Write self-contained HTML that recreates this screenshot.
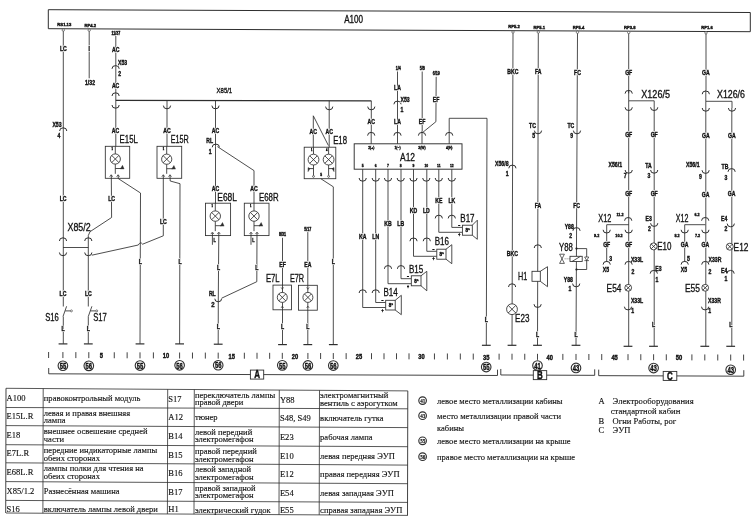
<!DOCTYPE html>
<html><head><meta charset="utf-8"><title>Wiring diagram</title>
<style>
html,body{margin:0;padding:0;background:#fff;width:756px;height:522px;overflow:hidden}
svg{display:block}
svg text{fill:#111;stroke:none}
svg text.h{fill:#fff;stroke:#fff;stroke-width:1.8px;stroke-linejoin:round}
svg text.b{stroke:#111;stroke-width:0.38px}
svg text.c{stroke:#111;stroke-width:0.32px}
svg text.s{stroke:#111;stroke-width:0.14px}
</style></head>
<body>
<svg width="756" height="522" viewBox="0 0 756 522">
<rect x="0" y="0" width="756" height="522" fill="#fff"/>
<g fill="none" stroke="#2e2e2e" stroke-width="0.85">
<path d="M48.3 9.7 L750.3 12.5 L750.3 31.7 L48.3 28.7 L48.3 9.7" stroke-width="1"/>
<circle cx="63.3" cy="30.06" r="1.2" fill="#fff" stroke-width="0.6"/>
<circle cx="89.2" cy="30.17" r="1.2" fill="#fff" stroke-width="0.6"/>
<circle cx="513" cy="31.99" r="1.2" fill="#fff" stroke-width="0.6"/>
<circle cx="538.3" cy="32.09" r="1.2" fill="#fff" stroke-width="0.6"/>
<circle cx="577.5" cy="32.26" r="1.2" fill="#fff" stroke-width="0.6"/>
<circle cx="628.7" cy="32.48" r="1.2" fill="#fff" stroke-width="0.6"/>
<circle cx="706" cy="32.81" r="1.2" fill="#fff" stroke-width="0.6"/>
<path d="M48.6 352 L48.6 358" stroke-width="0.9"/>
<path d="M62.9 352.06 L62.9 358.06" stroke-width="0.9"/>
<path d="M75.85 352.1 L75.85 358.1" stroke-width="0.9"/>
<path d="M88.8 352.15 L88.8 358.15" stroke-width="0.9"/>
<path d="M114.27 352.25 L114.27 358.25" stroke-width="0.9"/>
<path d="M127.13 352.29 L127.13 358.29" stroke-width="0.9"/>
<path d="M140 352.34 L140 358.34" stroke-width="0.9"/>
<path d="M153.4 352.39 L153.4 358.39" stroke-width="0.9"/>
<path d="M179.6 352.49 L179.6 358.49" stroke-width="0.9"/>
<path d="M192.47 352.54 L192.47 358.54" stroke-width="0.9"/>
<path d="M205.33 352.58 L205.33 358.58" stroke-width="0.9"/>
<path d="M218.2 352.63 L218.2 358.63" stroke-width="0.9"/>
<path d="M244.35 352.73 L244.35 358.73" stroke-width="0.9"/>
<path d="M257 352.78 L257 358.78" stroke-width="0.9"/>
<path d="M269.65 352.82 L269.65 358.82" stroke-width="0.9"/>
<path d="M282.3 352.87 L282.3 358.87" stroke-width="0.9"/>
<path d="M307.9 352.97 L307.9 358.97" stroke-width="0.9"/>
<path d="M320.6 353.01 L320.6 359.01" stroke-width="0.9"/>
<path d="M333.3 353.06 L333.3 359.06" stroke-width="0.9"/>
<path d="M346.15 353.11 L346.15 359.11" stroke-width="0.9"/>
<path d="M371.5 353.2 L371.5 359.2" stroke-width="0.9"/>
<path d="M384 353.25 L384 359.25" stroke-width="0.9"/>
<path d="M396.5 353.29 L396.5 359.29" stroke-width="0.9"/>
<path d="M409 353.34 L409 359.34" stroke-width="0.9"/>
<path d="M434.44 353.44 L434.44 359.44" stroke-width="0.9"/>
<path d="M447.38 353.48 L447.38 359.48" stroke-width="0.9"/>
<path d="M460.32 353.53 L460.32 359.53" stroke-width="0.9"/>
<path d="M473.26 353.58 L473.26 359.58" stroke-width="0.9"/>
<path d="M499.1 353.68 L499.1 359.68" stroke-width="0.9"/>
<path d="M512 353.72 L512 359.72" stroke-width="0.9"/>
<path d="M524.75 353.77 L524.75 359.77" stroke-width="0.9"/>
<path d="M537.5 353.82 L537.5 359.82" stroke-width="0.9"/>
<path d="M562.85 353.91 L562.85 359.91" stroke-width="0.9"/>
<path d="M576 353.96 L576 359.96" stroke-width="0.9"/>
<path d="M588.87 354.01 L588.87 360.01" stroke-width="0.9"/>
<path d="M601.73 354.06 L601.73 360.06" stroke-width="0.9"/>
<path d="M628 354.15 L628 360.15" stroke-width="0.9"/>
<path d="M640.8 354.2 L640.8 360.2" stroke-width="0.9"/>
<path d="M653.6 354.25 L653.6 360.25" stroke-width="0.9"/>
<path d="M666.3 354.3 L666.3 360.3" stroke-width="0.9"/>
<path d="M691.9 354.39 L691.9 360.39" stroke-width="0.9"/>
<path d="M704.8 354.44 L704.8 360.44" stroke-width="0.9"/>
<path d="M717.75 354.49 L717.75 360.49" stroke-width="0.9"/>
<path d="M730.7 354.54 L730.7 360.54" stroke-width="0.9"/>
<path d="M743.6 354.58 L743.6 360.58" stroke-width="0.9"/>
<path d="M48.7 368 L48.7 373.8 L497.5 375.47 L497.5 369.67" stroke-width="0.9"/>
<rect x="250.4" y="370.08" width="13.3" height="9" stroke-width="0.9" fill="#fff"/>
<path d="M500.8 368.98 L500.8 374.98 L594.7 375.33 L594.7 369.33" stroke-width="0.9"/>
<rect x="533.3" y="370.63" width="13.4" height="9" stroke-width="0.9" fill="#fff"/>
<path d="M598.7 369.65 L598.7 375.65 L743.8 376.18 L743.8 370.18" stroke-width="0.9"/>
<rect x="663.2" y="371.41" width="13.6" height="9" stroke-width="0.9" fill="#fff"/>
<circle cx="62.9" cy="365.76" r="4.8" fill="#fff" stroke-width="1.1"/>
<circle cx="88.8" cy="365.85" r="4.8" fill="#fff" stroke-width="1.1"/>
<circle cx="140" cy="365.54" r="4.8" fill="#fff" stroke-width="1.1"/>
<circle cx="179.6" cy="365.29" r="4.8" fill="#fff" stroke-width="1.1"/>
<circle cx="218.2" cy="365.23" r="4.8" fill="#fff" stroke-width="1.1"/>
<circle cx="282.3" cy="365.37" r="4.8" fill="#fff" stroke-width="1.1"/>
<circle cx="307.9" cy="365.47" r="4.8" fill="#fff" stroke-width="1.1"/>
<circle cx="333.3" cy="365.56" r="4.8" fill="#fff" stroke-width="1.1"/>
<circle cx="486.2" cy="367.03" r="4.8" fill="#fff" stroke-width="1.1"/>
<circle cx="537.5" cy="365.52" r="4.8" fill="#fff" stroke-width="1.1"/>
<circle cx="576" cy="367.96" r="4.8" fill="#fff" stroke-width="1.1"/>
<circle cx="653.6" cy="368.05" r="4.8" fill="#fff" stroke-width="1.1"/>
<circle cx="730.7" cy="369.74" r="4.8" fill="#fff" stroke-width="1.1"/>
<path d="M63.3 31.26 L63.3 343.8"/>
<path d="M59.6 131 A3.6 3.2 0 0 1 66.8 131" stroke-width="1"/>
<path d="M59.4 241 A3.6 3.2 0 0 1 66.6 241" stroke-width="1"/>
<path d="M59.4 252.5 A3.6 3.2 0 0 0 66.6 252.5" stroke-width="1"/>
<path d="M84.7 241 A3.6 3.2 0 0 1 91.9 241" stroke-width="1"/>
<path d="M84.7 252.5 A3.6 3.2 0 0 0 91.9 252.5" stroke-width="1"/>
<path d="M63 247.5 L88.3 247.5"/>
<path d="M89.2 31.37 L89.2 78.3"/>
<path d="M115.8 36 L115.8 146.3"/>
<path d="M112 68.8 A3.6 3.2 0 0 1 119.2 68.8" stroke-width="1"/>
<path d="M112 96 A3.6 3.2 0 0 1 119.2 96" stroke-width="1"/>
<path d="M112 105 A3.6 3.2 0 0 0 119.2 105" stroke-width="1"/>
<path d="M115.8 100.3 L371.3 100.8" stroke-width="1.35"/>
<path d="M167 100.5 L167 146.3"/>
<path d="M163.4 105.6 A3.6 3.2 0 0 0 170.6 105.6" stroke-width="1"/>
<path d="M215.5 100.5 L215.5 146.3"/>
<path d="M211.9 105.6 A3.6 3.2 0 0 0 219.1 105.6" stroke-width="1"/>
<rect x="105.3" y="146.3" width="24.4" height="32"/>
<path d="M115.3 146.3 L115.3 153.9"/>
<circle cx="115.3" cy="159" r="5.1" fill="#fff"/>
<path d="M111.69 155.39 L118.91 162.61 M111.69 162.61 L118.91 155.39"/>
<path d="M115.3 164.1 L115.3 173.8"/>
<path d="M115.3 168.5 L121.3 168.5"/>
<path d="M120.3 168.9 L122.5 165.3 L124.1 168.9 Z" fill="#2e2e2e" stroke-width="0.4"/>
<path d="M109.7 176.8 L111.2 174.7 L112.7 176.8" stroke-width="0.7"/>
<path d="M116.6 176.8 L118.1 174.7 L119.6 176.8" stroke-width="0.7"/>
<path d="M111.3 175 L111.6 217.5 L90 231.7 L88.3 235.5 L88.3 343.8"/>
<path d="M118.1 175 L118.3 178.6 L140.5 193 L140 343.8"/>
<rect x="157" y="146.3" width="24.7" height="32"/>
<path d="M166.7 146.3 L166.7 154.1"/>
<circle cx="166.7" cy="159.2" r="5.1" fill="#fff"/>
<path d="M163.09 155.59 L170.31 162.81 M163.09 162.81 L170.31 155.59"/>
<path d="M166.7 164.3 L166.7 173.8"/>
<path d="M166.7 168.7 L172.7 168.7"/>
<path d="M171.7 169.1 L173.9 165.5 L175.5 169.1 Z" fill="#2e2e2e" stroke-width="0.4"/>
<path d="M161.8 176.8 L163.3 174.7 L164.8 176.8" stroke-width="0.7"/>
<path d="M168.5 176.8 L170 174.7 L171.5 176.8" stroke-width="0.7"/>
<path d="M163.3 175 L163.3 235.8 L142.6 244.2 Q140.4 241.2 138.3 245 L91.8 255.2"/>
<path d="M170 175 L170.2 181 L180 183.7 L179.6 344"/>
<rect x="61.5" y="306.5" width="3" height="10" fill="#fff" stroke="none"/>
<path d="M63 316.5 L66.6 306.3"/>
<path d="M65.2 310.9 L70.4 310.9"/>
<circle cx="71.4" cy="310.9" r="1.0" fill="#fff" stroke-width="0.6"/>
<rect x="86.8" y="306.5" width="3" height="10" fill="#fff" stroke="none"/>
<path d="M88.3 316.5 L91.9 306.3"/>
<path d="M90.5 310.9 L95.7 310.9"/>
<circle cx="96.7" cy="310.9" r="1.0" fill="#fff" stroke-width="0.6"/>
<path d="M58.6 343.9 L67.4 343.9" stroke-width="1.2"/>
<path d="M83.9 343.9 L92.7 343.9" stroke-width="1.2"/>
<path d="M135.6 343.9 L144.4 343.9" stroke-width="1.2"/>
<path d="M175.2 343.9 L184 343.9" stroke-width="1.2"/>
<path d="M212.2 147.3 A3.6 3.2 0 0 1 219.4 147.3" stroke-width="1"/>
<path d="M215.5 146.3 L215.5 203.3"/>
<path d="M217.4 146.6 L254 170.6 L254 203.3"/>
<rect x="205.5" y="203.2" width="25.1" height="32.4"/>
<rect x="244.3" y="203.2" width="24.7" height="32.4"/>
<path d="M215.3 203.2 L215.3 210.9"/>
<circle cx="215.3" cy="216.1" r="5.2" fill="#fff"/>
<path d="M211.62 212.42 L218.98 219.78 M211.62 219.78 L218.98 212.42"/>
<path d="M215.3 221.3 L215.3 231.1"/>
<path d="M215.3 225.7 L221.3 225.7"/>
<path d="M220.3 226.1 L222.5 222.5 L224.1 226.1 Z" fill="#2e2e2e" stroke-width="0.4"/>
<path d="M210.9 234.1 L212.4 232 L213.9 234.1" stroke-width="0.7"/>
<path d="M217.3 234.1 L218.8 232 L220.3 234.1" stroke-width="0.7"/>
<path d="M254 203.2 L254 210.9"/>
<circle cx="254" cy="216.1" r="5.2" fill="#fff"/>
<path d="M250.32 212.42 L257.68 219.78 M250.32 219.78 L257.68 212.42"/>
<path d="M254 221.3 L254 231.1"/>
<path d="M254 225.7 L260 225.7"/>
<path d="M259 226.1 L261.2 222.5 L262.8 226.1 Z" fill="#2e2e2e" stroke-width="0.4"/>
<path d="M249.5 234.1 L251 232 L252.5 234.1" stroke-width="0.7"/>
<path d="M255.5 234.1 L257 232 L258.5 234.1" stroke-width="0.7"/>
<path d="M212.4 233 L212.4 244.8"/>
<path d="M251 233 L251 244.8"/>
<path d="M218.8 233 L218.3 298 L218.2 344.2"/>
<path d="M257 233 L256.8 281.7 L221.6 298.2"/>
<path d="M214.8 298.7 A3.4 3.1 0 0 0 221.6 298.7" stroke-width="1"/>
<path d="M213.8 344.2 L222.6 344.2" stroke-width="1.2"/>
<path d="M282.5 237.8 L282.5 344.6"/>
<path d="M278.1 344.6 L286.9 344.6" stroke-width="1.2"/>
<path d="M307.8 232.1 L307.8 344.6"/>
<path d="M303.4 344.6 L312.2 344.6" stroke-width="1.2"/>
<rect x="273" y="285.1" width="18.5" height="24.7"/>
<rect x="298.5" y="285.3" width="18.8" height="24.9"/>
<circle cx="282.3" cy="297.4" r="5" fill="#fff"/>
<path d="M278.76 293.86 L285.84 300.94 M278.76 300.94 L285.84 293.86"/>
<path d="M281 287.3 L282.3 289.3 L283.6 287.3" stroke-width="0.6"/>
<path d="M281 308 L282.3 306 L283.6 308" stroke-width="0.6"/>
<circle cx="307.9" cy="297.4" r="5" fill="#fff"/>
<path d="M304.36 293.86 L311.44 300.94 M304.36 300.94 L311.44 293.86"/>
<path d="M306.6 287.3 L307.9 289.3 L309.2 287.3" stroke-width="0.6"/>
<path d="M306.6 308 L307.9 306 L309.2 308" stroke-width="0.6"/>
<path d="M329.2 100.8 L329.2 147.2"/>
<path d="M325.6 106.6 A3.6 3.2 0 0 0 332.8 106.6" stroke-width="1"/>
<path d="M313.3 115.8 L313.3 147.2"/>
<path d="M313.3 115.8 L328.4 145.5"/>
<rect x="304.2" y="147.2" width="31.6" height="31.5"/>
<path d="M313.5 147.2 L313.5 154.2"/>
<circle cx="313.5" cy="159.6" r="5.4" fill="#fff"/>
<path d="M309.68 155.78 L317.32 163.42 M309.68 163.42 L317.32 155.78"/>
<path d="M313.5 165 L313.5 175.4"/>
<path d="M313.5 168.6 L308.3 168.6" stroke-width="0.9"/>
<path d="M308.1 167.6 L308.1 171.6 L309.9 168.6 Z" fill="#2e2e2e" stroke-width="0.5"/>
<circle cx="313.5" cy="176.4" r="0.95" fill="#fff" stroke-width="0.7"/>
<path d="M328.6 147.2 L328.6 154.2"/>
<circle cx="328.6" cy="159.6" r="5.4" fill="#fff"/>
<path d="M324.78 155.78 L332.42 163.42 M324.78 163.42 L332.42 155.78"/>
<path d="M328.6 165 L328.6 175.4"/>
<path d="M328.6 168.6 L333.8 168.6" stroke-width="0.9"/>
<path d="M334 167.6 L334 171.6 L332.2 168.6 Z" fill="#2e2e2e" stroke-width="0.5"/>
<circle cx="328.6" cy="176.4" r="0.95" fill="#fff" stroke-width="0.7"/>
<path d="M320.8 178.7 L333.3 186.8 L333.3 344.6"/>
<path d="M328.9 344.6 L337.7 344.6" stroke-width="1.2"/>
<rect x="354.2" y="143.8" width="107.8" height="25.4" stroke-width="0.95"/>
<path d="M367.6 135.6 A3.6 3.2 0 0 1 374.8 135.6" stroke-width="1"/>
<path d="M371.2 131 L371.2 143.8"/>
<path d="M393.9 135.6 A3.6 3.2 0 0 1 401.1 135.6" stroke-width="1"/>
<path d="M397.5 131 L397.5 143.8"/>
<path d="M418.4 135.6 A3.6 3.2 0 0 1 425.6 135.6" stroke-width="1"/>
<path d="M422 131 L422 143.8"/>
<path d="M445.6 135.6 A3.6 3.2 0 0 1 452.8 135.6" stroke-width="1"/>
<path d="M449.2 131 L449.2 143.8"/>
<path d="M359.1 178 A3.6 3.2 0 0 0 366.3 178" stroke-width="1"/>
<path d="M372.1 178 A3.6 3.2 0 0 0 379.3 178" stroke-width="1"/>
<path d="M384.4 178 A3.6 3.2 0 0 0 391.6 178" stroke-width="1"/>
<path d="M397.1 178 A3.6 3.2 0 0 0 404.3 178" stroke-width="1"/>
<path d="M409.9 178 A3.6 3.2 0 0 0 417.1 178" stroke-width="1"/>
<path d="M422.7 178 A3.6 3.2 0 0 0 429.9 178" stroke-width="1"/>
<path d="M435.2 178 A3.6 3.2 0 0 0 442.4 178" stroke-width="1"/>
<path d="M448.2 178 A3.6 3.2 0 0 0 455.4 178" stroke-width="1"/>
<path d="M371.3 100.8 L371.3 131"/>
<path d="M367.7 106.6 A3.6 3.2 0 0 0 374.9 106.6" stroke-width="1"/>
<path d="M397.5 71.5 L397.5 131"/>
<path d="M393.9 104.3 A3.6 3.2 0 0 1 401.1 104.3" stroke-width="1"/>
<path d="M422.2 71.5 L422.2 131"/>
<path d="M436.2 76.8 L435.9 121.7 L423 132.2"/>
<path d="M449.2 131 L449.2 118.3 L487 118.3 L486.3 345.3"/>
<path d="M481.9 345.3 L490.7 345.3" stroke-width="1.2"/>
<path d="M438.8 169.2 L438.8 232.3"/>
<path d="M451.8 169.2 L451.8 227.4"/>
<path d="M438.8 232.3 L462.4 232.3"/>
<path d="M451.8 227.4 L462.4 227.4"/>
<path d="M435.2 218.4 A3.6 3.2 0 0 1 442.4 218.4" stroke-width="1"/>
<path d="M448.2 218.4 A3.6 3.2 0 0 1 455.4 218.4" stroke-width="1"/>
<rect x="462.4" y="225.2" width="9.9" height="10" fill="#fff"/>
<path d="M472.3 225.2 L477.3 220.2 L477.3 239.3 L472.3 235.2"/>
<path d="M413.5 169.2 L413.5 256.3"/>
<path d="M426.8 169.2 L426.8 251.3"/>
<path d="M413.5 256.3 L436.8 256.3"/>
<path d="M426.8 251.3 L436.8 251.3"/>
<path d="M409.9 241.2 A3.6 3.2 0 0 1 417.1 241.2" stroke-width="1"/>
<path d="M423.2 241.2 A3.6 3.2 0 0 1 430.4 241.2" stroke-width="1"/>
<rect x="436.8" y="249.2" width="9.2" height="10" fill="#fff"/>
<path d="M446 249.2 L451.8 244.7 L451.8 263.7 L446 259.2"/>
<path d="M388 169.2 L388 283.7"/>
<path d="M401 169.2 L401 278.7"/>
<path d="M388 283.7 L411.3 283.7"/>
<path d="M401 278.7 L411.3 278.7"/>
<path d="M384.4 268.8 A3.6 3.2 0 0 1 391.6 268.8" stroke-width="1"/>
<path d="M397.4 268.8 A3.6 3.2 0 0 1 404.6 268.8" stroke-width="1"/>
<rect x="411.3" y="275.8" width="9.7" height="10" fill="#fff"/>
<path d="M421 275.8 L426.8 271.3 L426.8 290.8 L421 285.8"/>
<path d="M362.7 169.2 L362.7 307.5"/>
<path d="M375.7 169.2 L375.7 302.5"/>
<path d="M362.7 307.5 L385.7 307.5"/>
<path d="M375.7 302.5 L385.7 302.5"/>
<path d="M359.1 293 A3.6 3.2 0 0 1 366.3 293" stroke-width="1"/>
<path d="M372.1 293 A3.6 3.2 0 0 1 379.3 293" stroke-width="1"/>
<rect x="385.7" y="300.3" width="9.5" height="9.7" fill="#fff"/>
<path d="M395.2 300.3 L401.3 295.3 L401.3 314.7 L395.2 310"/>
<path d="M513 33.19 L512 345.3"/>
<path d="M508.8 168.3 A3.6 3.2 0 0 1 516 168.3" stroke-width="1"/>
<path d="M508.5 287 A3.6 3.2 0 0 1 515.7 287" stroke-width="1"/>
<circle cx="512" cy="309.2" r="5.4" fill="#fff"/>
<path d="M508.18 305.38 L515.82 313.02 M508.18 313.02 L515.82 305.38"/>
<path d="M507.6 345.3 L516.4 345.3" stroke-width="1.2"/>
<path d="M538.3 33.29 L537.5 345.3"/>
<path d="M534.4 130.6 A3.6 3.2 0 0 0 541.6 130.6" stroke-width="1"/>
<path d="M534.2 248 A3.6 3.2 0 0 1 541.4 248" stroke-width="1"/>
<rect x="532" y="271.3" width="8.3" height="10" fill="#fff"/>
<path d="M540.3 271.3 L547.5 266.7 L547.5 286.7 L540.3 281.3"/>
<path d="M534 304.2 A3.6 3.2 0 0 0 541.2 304.2" stroke-width="1"/>
<path d="M533.1 345.3 L541.9 345.3" stroke-width="1.2"/>
<path d="M577.5 33.46 L576 345.3"/>
<path d="M573.4 130.6 A3.6 3.2 0 0 0 580.6 130.6" stroke-width="1"/>
<path d="M572.9 230.8 A3.6 3.2 0 0 1 580.1 230.8" stroke-width="1"/>
<circle cx="576.5" cy="248.6" r="1.1" fill="#1a1a1a" stroke="none"/>
<circle cx="576.5" cy="269.5" r="1.1" fill="#1a1a1a" stroke="none"/>
<path d="M576.5 248.6 L586.7 248.6 L586.7 269.5 L576.5 269.5"/>
<rect x="570" y="256.3" width="12.2" height="5.2" fill="#fff"/>
<path d="M572 261.5 L580.5 256.3"/>
<path d="M584.6 257.0 L588.8 257.0 L586.7 260.4 Z M584.4 260.6 L589.0 260.6" stroke-width="0.7" fill="#fff"/>
<path d="M559.6 254.2 L564.4 254.2 L559.6 263.4 L564.4 263.4 Z" stroke-width="0.75"/>
<path d="M564.6 258.8 L570.0 258.8" stroke-width="0.6" stroke-dasharray="1 1"/>
<path d="M572.6 283.6 A3.6 3.2 0 0 0 579.8 283.6" stroke-width="1"/>
<path d="M571.6 345.3 L580.4 345.3" stroke-width="1.2"/>
<path d="M628.7 33.68 L628.7 93.3"/>
<path d="M625.1 93.6 A3.6 3.2 0 0 1 632.3 93.6" stroke-width="1"/>
<path d="M628.7 90 L628.7 100.8 L654.2 100.8 L654.2 107"/>
<path d="M628.7 100.8 L628.7 346.3"/>
<path d="M625.1 107.3 A3.6 3.2 0 0 0 632.3 107.3" stroke-width="1"/>
<path d="M650.6 107.3 A3.6 3.2 0 0 0 657.8 107.3" stroke-width="1"/>
<path d="M654.2 107 L654.2 346.3"/>
<path d="M625.1 170 A3.6 3.2 0 0 0 632.3 170" stroke-width="1"/>
<path d="M650.6 170 A3.6 3.2 0 0 0 657.8 170" stroke-width="1"/>
<path d="M624.6 220.7 A3.6 3.2 0 0 1 631.8 220.7" stroke-width="1"/>
<path d="M628.7 224.7 L606.7 224.7 L606.7 262"/>
<path d="M603.1 229.8 A3.6 3.2 0 0 0 610.3 229.8" stroke-width="1"/>
<path d="M625.1 229.8 A3.6 3.2 0 0 0 632.3 229.8" stroke-width="1"/>
<path d="M603.1 264.6 A3.6 3.2 0 0 1 610.3 264.6" stroke-width="1"/>
<path d="M625 264.6 A3.6 3.2 0 0 1 632.2 264.6" stroke-width="1"/>
<circle cx="628.2" cy="287.8" r="3.4" fill="#fff"/>
<path d="M625.8 285.4 L630.6 290.2 M625.8 290.2 L630.6 285.4"/>
<path d="M624.4 306.7 A3.6 3.2 0 0 0 631.6 306.7" stroke-width="1"/>
<path d="M623.6 346.3 L632.4 346.3" stroke-width="1.2"/>
<path d="M650.6 223.2 A3.6 3.2 0 0 0 657.8 223.2" stroke-width="1"/>
<circle cx="653.6" cy="246.4" r="3.5" fill="#fff"/>
<path d="M651.13 243.93 L656.07 248.87 M651.13 248.87 L656.07 243.93"/>
<path d="M650.2 273.6 A3.6 3.2 0 0 1 657.4 273.6" stroke-width="1"/>
<path d="M649.1 346.3 L657.9 346.3" stroke-width="1.2"/>
<path d="M706 34.01 L706 90"/>
<path d="M702.2 94.2 A3.6 3.2 0 0 1 709.4 94.2" stroke-width="1"/>
<path d="M705.8 90 L705.8 101.3 L732 101.3 L732 108"/>
<path d="M705.8 101.3 L705.8 346.3"/>
<path d="M702.2 108 A3.6 3.2 0 0 0 709.4 108" stroke-width="1"/>
<path d="M728.4 108 A3.6 3.2 0 0 0 735.6 108" stroke-width="1"/>
<path d="M731.8 108 L731.8 346.3"/>
<path d="M702 170.2 A3.6 3.2 0 0 0 709.2 170.2" stroke-width="1"/>
<path d="M728 171.8 A3.6 3.2 0 0 1 735.2 171.8" stroke-width="1"/>
<path d="M701.6 220.7 A3.6 3.2 0 0 1 708.8 220.7" stroke-width="1"/>
<path d="M705.4 224.7 L684.7 224.7 L684.7 262"/>
<path d="M681.1 229.8 A3.6 3.2 0 0 0 688.3 229.8" stroke-width="1"/>
<path d="M701.8 229.8 A3.6 3.2 0 0 0 709 229.8" stroke-width="1"/>
<path d="M681.1 264.6 A3.6 3.2 0 0 1 688.3 264.6" stroke-width="1"/>
<path d="M701.7 264.6 A3.6 3.2 0 0 1 708.9 264.6" stroke-width="1"/>
<circle cx="705.2" cy="287.8" r="3.4" fill="#fff"/>
<path d="M702.8 285.4 L707.6 290.2 M702.8 290.2 L707.6 285.4"/>
<path d="M701.5 306.7 A3.6 3.2 0 0 0 708.7 306.7" stroke-width="1"/>
<path d="M700.4 346.3 L709.2 346.3" stroke-width="1.2"/>
<path d="M727.2 223.6 A3.6 3.2 0 0 0 734.4 223.6" stroke-width="1"/>
<circle cx="729.8" cy="246.7" r="3.5" fill="#fff"/>
<path d="M727.33 244.23 L732.27 249.17 M727.33 249.17 L732.27 244.23"/>
<path d="M727 273.6 A3.6 3.2 0 0 1 734.2 273.6" stroke-width="1"/>
<path d="M726.3 346.3 L735.1 346.3" stroke-width="1.2"/>
<path d="M6 388.3 L407.8 390.9" stroke-width="0.8"/>
<path d="M6 407.5 L407.8 408.8" stroke-width="0.8"/>
<path d="M6 425.6 L407.8 427.6" stroke-width="0.8"/>
<path d="M6 444.7 L407.8 446.7" stroke-width="0.8"/>
<path d="M6 462.8 L407.8 465.1" stroke-width="0.8"/>
<path d="M6 481.6 L407.8 483.7" stroke-width="0.8"/>
<path d="M6 500.4 L407.8 502.4" stroke-width="0.8"/>
<path d="M6 513 L407.8 515.4" stroke-width="0.8"/>
<path d="M6 388.3 L5.7 513" stroke-width="0.9"/>
<path d="M43.2 388.54 L42.9 513.22" stroke-width="0.8"/>
<path d="M167.7 389.35 L167.4 513.97" stroke-width="0.8"/>
<path d="M194.3 389.52 L194 514.12" stroke-width="0.8"/>
<path d="M279.3 390.07 L279 514.63" stroke-width="0.8"/>
<path d="M319.5 390.33 L319.2 514.87" stroke-width="0.8"/>
<path d="M407.8 390.9 L407.5 515.4" stroke-width="0.9"/>
<circle cx="422.6" cy="400.6" r="3.8" stroke-width="1.15"/>
<circle cx="422.6" cy="415.7" r="3.8" stroke-width="1.15"/>
<circle cx="422.6" cy="440.8" r="3.8" stroke-width="1.15"/>
<circle cx="422.6" cy="456.7" r="3.8" stroke-width="1.15"/>
<text class="h" transform="translate(63.3 49) scale(0.79 1)" text-anchor="middle" dominant-baseline="central" style="font-family:'Liberation Sans', sans-serif;font-size:6.5px;font-weight:bold">LC</text>
<text class="h" transform="translate(61.5 124.7) scale(0.79 1)" text-anchor="end" dominant-baseline="central" style="font-family:'Liberation Sans', sans-serif;font-size:6.5px;font-weight:bold">X53</text>
<text class="h" transform="translate(63.1 198.7) scale(0.79 1)" text-anchor="middle" dominant-baseline="central" style="font-family:'Liberation Sans', sans-serif;font-size:6.5px;font-weight:bold">LC</text>
<text class="h" transform="translate(63 294) scale(0.79 1)" text-anchor="middle" dominant-baseline="central" style="font-family:'Liberation Sans', sans-serif;font-size:6.5px;font-weight:bold">LC</text>
<text class="h" transform="translate(88.3 294) scale(0.79 1)" text-anchor="middle" dominant-baseline="central" style="font-family:'Liberation Sans', sans-serif;font-size:6.5px;font-weight:bold">LC</text>
<text class="h" transform="translate(89.2 49) scale(0.79 1)" text-anchor="middle" dominant-baseline="central" style="font-family:'Liberation Sans', sans-serif;font-size:6.5px;font-weight:bold">I</text>
<text class="h" transform="translate(115.8 49.5) scale(0.79 1)" text-anchor="middle" dominant-baseline="central" style="font-family:'Liberation Sans', sans-serif;font-size:6.5px;font-weight:bold">AC</text>
<text class="h" transform="translate(118 62.3) scale(0.79 1)" text-anchor="start" dominant-baseline="central" style="font-family:'Liberation Sans', sans-serif;font-size:6.5px;font-weight:bold">X53</text>
<text class="h" transform="translate(115.6 85.3) scale(0.79 1)" text-anchor="middle" dominant-baseline="central" style="font-family:'Liberation Sans', sans-serif;font-size:6.5px;font-weight:bold">AC</text>
<text class="h" transform="translate(115.5 130.8) scale(0.79 1)" text-anchor="middle" dominant-baseline="central" style="font-family:'Liberation Sans', sans-serif;font-size:6.5px;font-weight:bold">AC</text>
<text class="h" transform="translate(111.6 198.7) scale(0.79 1)" text-anchor="middle" dominant-baseline="central" style="font-family:'Liberation Sans', sans-serif;font-size:6.5px;font-weight:bold">LC</text>
<text class="h" transform="translate(140.3 261.7) scale(0.79 1)" text-anchor="middle" dominant-baseline="central" style="font-family:'Liberation Sans', sans-serif;font-size:6.5px;font-weight:bold">L</text>
<text class="h" transform="translate(167 130.8) scale(0.79 1)" text-anchor="middle" dominant-baseline="central" style="font-family:'Liberation Sans', sans-serif;font-size:6.5px;font-weight:bold">AC</text>
<text class="h" transform="translate(163.3 221.7) scale(0.79 1)" text-anchor="middle" dominant-baseline="central" style="font-family:'Liberation Sans', sans-serif;font-size:6.5px;font-weight:bold">LC</text>
<text class="h" transform="translate(180 261.7) scale(0.79 1)" text-anchor="middle" dominant-baseline="central" style="font-family:'Liberation Sans', sans-serif;font-size:6.5px;font-weight:bold">L</text>
<text class="h" transform="translate(63 328.3) scale(0.79 1)" text-anchor="middle" dominant-baseline="central" style="font-family:'Liberation Sans', sans-serif;font-size:6.5px;font-weight:bold">L</text>
<text class="h" transform="translate(88.3 328.3) scale(0.79 1)" text-anchor="middle" dominant-baseline="central" style="font-family:'Liberation Sans', sans-serif;font-size:6.5px;font-weight:bold">L</text>
<text class="h" transform="translate(215.5 130.3) scale(0.79 1)" text-anchor="middle" dominant-baseline="central" style="font-family:'Liberation Sans', sans-serif;font-size:6.5px;font-weight:bold">AC</text>
<text class="h" transform="translate(215.5 188.3) scale(0.79 1)" text-anchor="middle" dominant-baseline="central" style="font-family:'Liberation Sans', sans-serif;font-size:6.5px;font-weight:bold">AC</text>
<text class="h" transform="translate(254 188.3) scale(0.79 1)" text-anchor="middle" dominant-baseline="central" style="font-family:'Liberation Sans', sans-serif;font-size:6.5px;font-weight:bold">AC</text>
<text class="h" transform="translate(218.6 267.5) scale(0.79 1)" text-anchor="middle" dominant-baseline="central" style="font-family:'Liberation Sans', sans-serif;font-size:6.5px;font-weight:bold">L</text>
<text class="h" transform="translate(218.2 326.7) scale(0.79 1)" text-anchor="middle" dominant-baseline="central" style="font-family:'Liberation Sans', sans-serif;font-size:6.5px;font-weight:bold">L</text>
<text class="h" transform="translate(256.8 267.5) scale(0.79 1)" text-anchor="middle" dominant-baseline="central" style="font-family:'Liberation Sans', sans-serif;font-size:6.5px;font-weight:bold">L</text>
<text class="h" transform="translate(282.5 264.8) scale(0.79 1)" text-anchor="middle" dominant-baseline="central" style="font-family:'Liberation Sans', sans-serif;font-size:6.5px;font-weight:bold">EF</text>
<text class="h" transform="translate(282.5 326.6) scale(0.79 1)" text-anchor="middle" dominant-baseline="central" style="font-family:'Liberation Sans', sans-serif;font-size:6.5px;font-weight:bold">L</text>
<text class="h" transform="translate(307.8 264.8) scale(0.79 1)" text-anchor="middle" dominant-baseline="central" style="font-family:'Liberation Sans', sans-serif;font-size:6.5px;font-weight:bold">EA</text>
<text class="h" transform="translate(307.8 326.6) scale(0.79 1)" text-anchor="middle" dominant-baseline="central" style="font-family:'Liberation Sans', sans-serif;font-size:6.5px;font-weight:bold">L</text>
<text class="h" transform="translate(313.3 131.7) scale(0.79 1)" text-anchor="middle" dominant-baseline="central" style="font-family:'Liberation Sans', sans-serif;font-size:6.5px;font-weight:bold">AC</text>
<text class="h" transform="translate(329.2 131.7) scale(0.79 1)" text-anchor="middle" dominant-baseline="central" style="font-family:'Liberation Sans', sans-serif;font-size:6.5px;font-weight:bold">AC</text>
<text class="h" transform="translate(333.3 261.4) scale(0.79 1)" text-anchor="middle" dominant-baseline="central" style="font-family:'Liberation Sans', sans-serif;font-size:6.5px;font-weight:bold">L</text>
<text class="h" transform="translate(371.3 121.7) scale(0.79 1)" text-anchor="middle" dominant-baseline="central" style="font-family:'Liberation Sans', sans-serif;font-size:6.5px;font-weight:bold">AC</text>
<text class="h" transform="translate(397.5 87.7) scale(0.79 1)" text-anchor="middle" dominant-baseline="central" style="font-family:'Liberation Sans', sans-serif;font-size:6.5px;font-weight:bold">LA</text>
<text class="h" transform="translate(400.6 100) scale(0.79 1)" text-anchor="start" dominant-baseline="central" style="font-family:'Liberation Sans', sans-serif;font-size:6.5px;font-weight:bold">X53</text>
<text class="h" transform="translate(397.5 121.7) scale(0.79 1)" text-anchor="middle" dominant-baseline="central" style="font-family:'Liberation Sans', sans-serif;font-size:6.5px;font-weight:bold">LA</text>
<text class="h" transform="translate(422 121.7) scale(0.79 1)" text-anchor="middle" dominant-baseline="central" style="font-family:'Liberation Sans', sans-serif;font-size:6.5px;font-weight:bold">EF</text>
<text class="h" transform="translate(436.1 100) scale(0.79 1)" text-anchor="middle" dominant-baseline="central" style="font-family:'Liberation Sans', sans-serif;font-size:6.5px;font-weight:bold">EF</text>
<text class="h" transform="translate(486.4 320) scale(0.79 1)" text-anchor="middle" dominant-baseline="central" style="font-family:'Liberation Sans', sans-serif;font-size:6.5px;font-weight:bold">L</text>
<text class="h" transform="translate(362.7 236.7) scale(0.79 1)" text-anchor="middle" dominant-baseline="central" style="font-family:'Liberation Sans', sans-serif;font-size:6.5px;font-weight:bold">KA</text>
<text class="h" transform="translate(375.7 236.7) scale(0.79 1)" text-anchor="middle" dominant-baseline="central" style="font-family:'Liberation Sans', sans-serif;font-size:6.5px;font-weight:bold">LN</text>
<text class="h" transform="translate(388 223.7) scale(0.79 1)" text-anchor="middle" dominant-baseline="central" style="font-family:'Liberation Sans', sans-serif;font-size:6.5px;font-weight:bold">KB</text>
<text class="h" transform="translate(400.7 223.7) scale(0.79 1)" text-anchor="middle" dominant-baseline="central" style="font-family:'Liberation Sans', sans-serif;font-size:6.5px;font-weight:bold">LB</text>
<text class="h" transform="translate(413.5 210.8) scale(0.79 1)" text-anchor="middle" dominant-baseline="central" style="font-family:'Liberation Sans', sans-serif;font-size:6.5px;font-weight:bold">KD</text>
<text class="h" transform="translate(426.3 210.8) scale(0.79 1)" text-anchor="middle" dominant-baseline="central" style="font-family:'Liberation Sans', sans-serif;font-size:6.5px;font-weight:bold">LD</text>
<text class="h" transform="translate(438.8 200.8) scale(0.79 1)" text-anchor="middle" dominant-baseline="central" style="font-family:'Liberation Sans', sans-serif;font-size:6.5px;font-weight:bold">KE</text>
<text class="h" transform="translate(451.8 200.8) scale(0.79 1)" text-anchor="middle" dominant-baseline="central" style="font-family:'Liberation Sans', sans-serif;font-size:6.5px;font-weight:bold">LK</text>
<text class="h" transform="translate(512.9 72) scale(0.79 1)" text-anchor="middle" dominant-baseline="central" style="font-family:'Liberation Sans', sans-serif;font-size:6.5px;font-weight:bold">BKC</text>
<text class="h" transform="translate(508.5 163.3) scale(0.79 1)" text-anchor="end" dominant-baseline="central" style="font-family:'Liberation Sans', sans-serif;font-size:6.5px;font-weight:bold">X56/8</text>
<text class="h" transform="translate(512.3 253.7) scale(0.79 1)" text-anchor="middle" dominant-baseline="central" style="font-family:'Liberation Sans', sans-serif;font-size:6.5px;font-weight:bold">BKC</text>
<text class="h" transform="translate(538.3 72) scale(0.79 1)" text-anchor="middle" dominant-baseline="central" style="font-family:'Liberation Sans', sans-serif;font-size:6.5px;font-weight:bold">FA</text>
<text class="h" transform="translate(537.9 205.3) scale(0.79 1)" text-anchor="middle" dominant-baseline="central" style="font-family:'Liberation Sans', sans-serif;font-size:6.5px;font-weight:bold">FA</text>
<text class="h" transform="translate(537.5 334.7) scale(0.79 1)" text-anchor="middle" dominant-baseline="central" style="font-family:'Liberation Sans', sans-serif;font-size:6.5px;font-weight:bold">L</text>
<text class="h" transform="translate(577.5 72.5) scale(0.79 1)" text-anchor="middle" dominant-baseline="central" style="font-family:'Liberation Sans', sans-serif;font-size:6.5px;font-weight:bold">FC</text>
<text class="h" transform="translate(576.6 205.3) scale(0.79 1)" text-anchor="middle" dominant-baseline="central" style="font-family:'Liberation Sans', sans-serif;font-size:6.5px;font-weight:bold">FC</text>
<text class="h" transform="translate(576 334.7) scale(0.79 1)" text-anchor="middle" dominant-baseline="central" style="font-family:'Liberation Sans', sans-serif;font-size:6.5px;font-weight:bold">L</text>
<text class="h" transform="translate(628.7 72.5) scale(0.79 1)" text-anchor="middle" dominant-baseline="central" style="font-family:'Liberation Sans', sans-serif;font-size:6.5px;font-weight:bold">GF</text>
<text class="h" transform="translate(628.7 135) scale(0.79 1)" text-anchor="middle" dominant-baseline="central" style="font-family:'Liberation Sans', sans-serif;font-size:6.5px;font-weight:bold">GF</text>
<text class="h" transform="translate(654.2 135) scale(0.79 1)" text-anchor="middle" dominant-baseline="central" style="font-family:'Liberation Sans', sans-serif;font-size:6.5px;font-weight:bold">GF</text>
<text class="h" transform="translate(622 164.7) scale(0.79 1)" text-anchor="end" dominant-baseline="central" style="font-family:'Liberation Sans', sans-serif;font-size:6.5px;font-weight:bold">X56/1</text>
<text class="h" transform="translate(628.7 194.2) scale(0.79 1)" text-anchor="middle" dominant-baseline="central" style="font-family:'Liberation Sans', sans-serif;font-size:6.5px;font-weight:bold">GF</text>
<text class="h" transform="translate(654.2 194.2) scale(0.79 1)" text-anchor="middle" dominant-baseline="central" style="font-family:'Liberation Sans', sans-serif;font-size:6.5px;font-weight:bold">GF</text>
<text class="h" transform="translate(620 214.7) scale(0.9 1)" text-anchor="middle" dominant-baseline="central" style="font-family:'Liberation Sans', sans-serif;font-size:4.2px;font-weight:bold">11.2</text>
<text class="h" transform="translate(596.6 235.8) scale(0.9 1)" text-anchor="middle" dominant-baseline="central" style="font-family:'Liberation Sans', sans-serif;font-size:4.2px;font-weight:bold">9.2</text>
<text class="h" transform="translate(619 235.8) scale(0.9 1)" text-anchor="middle" dominant-baseline="central" style="font-family:'Liberation Sans', sans-serif;font-size:4.2px;font-weight:bold">10.2</text>
<text class="h" transform="translate(606.7 245) scale(0.79 1)" text-anchor="middle" dominant-baseline="central" style="font-family:'Liberation Sans', sans-serif;font-size:6.5px;font-weight:bold">GF</text>
<text class="h" transform="translate(628.7 245) scale(0.79 1)" text-anchor="middle" dominant-baseline="central" style="font-family:'Liberation Sans', sans-serif;font-size:6.5px;font-weight:bold">GF</text>
<text class="h" transform="translate(653.5 325) scale(0.79 1)" text-anchor="middle" dominant-baseline="central" style="font-family:'Liberation Sans', sans-serif;font-size:6.5px;font-weight:bold">L</text>
<text class="h" transform="translate(705.9 73) scale(0.79 1)" text-anchor="middle" dominant-baseline="central" style="font-family:'Liberation Sans', sans-serif;font-size:6.5px;font-weight:bold">GA</text>
<text class="h" transform="translate(705.8 135.3) scale(0.79 1)" text-anchor="middle" dominant-baseline="central" style="font-family:'Liberation Sans', sans-serif;font-size:6.5px;font-weight:bold">GA</text>
<text class="h" transform="translate(731.9 135.3) scale(0.79 1)" text-anchor="middle" dominant-baseline="central" style="font-family:'Liberation Sans', sans-serif;font-size:6.5px;font-weight:bold">GA</text>
<text class="h" transform="translate(699.5 164.7) scale(0.79 1)" text-anchor="end" dominant-baseline="central" style="font-family:'Liberation Sans', sans-serif;font-size:6.5px;font-weight:bold">X56/1</text>
<text class="h" transform="translate(705.5 194.4) scale(0.79 1)" text-anchor="middle" dominant-baseline="central" style="font-family:'Liberation Sans', sans-serif;font-size:6.5px;font-weight:bold">GA</text>
<text class="h" transform="translate(731.6 194.2) scale(0.79 1)" text-anchor="middle" dominant-baseline="central" style="font-family:'Liberation Sans', sans-serif;font-size:6.5px;font-weight:bold">GA</text>
<text class="h" transform="translate(697 214.7) scale(0.9 1)" text-anchor="middle" dominant-baseline="central" style="font-family:'Liberation Sans', sans-serif;font-size:4.2px;font-weight:bold">6.2</text>
<text class="h" transform="translate(677 235.8) scale(0.9 1)" text-anchor="middle" dominant-baseline="central" style="font-family:'Liberation Sans', sans-serif;font-size:4.2px;font-weight:bold">8.2</text>
<text class="h" transform="translate(697.5 235.8) scale(0.9 1)" text-anchor="middle" dominant-baseline="central" style="font-family:'Liberation Sans', sans-serif;font-size:4.2px;font-weight:bold">7.2</text>
<text class="h" transform="translate(684.7 245) scale(0.79 1)" text-anchor="middle" dominant-baseline="central" style="font-family:'Liberation Sans', sans-serif;font-size:6.5px;font-weight:bold">GA</text>
<text class="h" transform="translate(705.3 245) scale(0.79 1)" text-anchor="middle" dominant-baseline="central" style="font-family:'Liberation Sans', sans-serif;font-size:6.5px;font-weight:bold">GA</text>
<text class="h" transform="translate(730.7 325) scale(0.79 1)" text-anchor="middle" dominant-baseline="central" style="font-family:'Liberation Sans', sans-serif;font-size:6.5px;font-weight:bold">L</text>
<text class="c" transform="translate(344.2 19.5) scale(0.8 1)" text-anchor="start" dominant-baseline="central" style="font-family:'Liberation Sans', sans-serif;font-size:10.4px" textLength="23.62" lengthAdjust="spacingAndGlyphs">A100</text>
<text class="b" transform="translate(64.3 24.96) scale(0.95 1)" text-anchor="middle" dominant-baseline="central" style="font-family:'Liberation Sans', sans-serif;font-size:4.4px;font-weight:bold">RS1.13</text>
<text class="b" transform="translate(90.2 25.07) scale(0.95 1)" text-anchor="middle" dominant-baseline="central" style="font-family:'Liberation Sans', sans-serif;font-size:4.4px;font-weight:bold">RP4.2</text>
<text class="b" transform="translate(514 26.89) scale(0.95 1)" text-anchor="middle" dominant-baseline="central" style="font-family:'Liberation Sans', sans-serif;font-size:4.4px;font-weight:bold">RP5.2</text>
<text class="b" transform="translate(539.3 26.99) scale(0.95 1)" text-anchor="middle" dominant-baseline="central" style="font-family:'Liberation Sans', sans-serif;font-size:4.4px;font-weight:bold">RP5.1</text>
<text class="b" transform="translate(578.5 27.16) scale(0.95 1)" text-anchor="middle" dominant-baseline="central" style="font-family:'Liberation Sans', sans-serif;font-size:4.4px;font-weight:bold">RP5.4</text>
<text class="b" transform="translate(629.7 27.38) scale(0.95 1)" text-anchor="middle" dominant-baseline="central" style="font-family:'Liberation Sans', sans-serif;font-size:4.4px;font-weight:bold">RP3.8</text>
<text class="b" transform="translate(707 27.71) scale(0.95 1)" text-anchor="middle" dominant-baseline="central" style="font-family:'Liberation Sans', sans-serif;font-size:4.4px;font-weight:bold">RP1.6</text>
<text class="b" transform="translate(101.4 355.5) scale(0.9 1)" text-anchor="middle" dominant-baseline="central" style="font-family:'Liberation Sans', sans-serif;font-size:6.4px;font-weight:bold">5</text>
<text class="b" transform="translate(166 355.74) scale(0.9 1)" text-anchor="middle" dominant-baseline="central" style="font-family:'Liberation Sans', sans-serif;font-size:6.4px;font-weight:bold">10</text>
<text class="b" transform="translate(231.7 355.98) scale(0.9 1)" text-anchor="middle" dominant-baseline="central" style="font-family:'Liberation Sans', sans-serif;font-size:6.4px;font-weight:bold">15</text>
<text class="b" transform="translate(294.9 356.22) scale(0.9 1)" text-anchor="middle" dominant-baseline="central" style="font-family:'Liberation Sans', sans-serif;font-size:6.4px;font-weight:bold">20</text>
<text class="b" transform="translate(359 356.46) scale(0.9 1)" text-anchor="middle" dominant-baseline="central" style="font-family:'Liberation Sans', sans-serif;font-size:6.4px;font-weight:bold">25</text>
<text class="b" transform="translate(421.5 356.69) scale(0.9 1)" text-anchor="middle" dominant-baseline="central" style="font-family:'Liberation Sans', sans-serif;font-size:6.4px;font-weight:bold">30</text>
<text class="b" transform="translate(486.2 356.93) scale(0.9 1)" text-anchor="middle" dominant-baseline="central" style="font-family:'Liberation Sans', sans-serif;font-size:6.4px;font-weight:bold">35</text>
<text class="b" transform="translate(549.7 357.16) scale(0.9 1)" text-anchor="middle" dominant-baseline="central" style="font-family:'Liberation Sans', sans-serif;font-size:6.4px;font-weight:bold">40</text>
<text class="b" transform="translate(614.6 357.4) scale(0.9 1)" text-anchor="middle" dominant-baseline="central" style="font-family:'Liberation Sans', sans-serif;font-size:6.4px;font-weight:bold">45</text>
<text class="b" transform="translate(679 357.64) scale(0.9 1)" text-anchor="middle" dominant-baseline="central" style="font-family:'Liberation Sans', sans-serif;font-size:6.4px;font-weight:bold">50</text>
<text class="b" transform="translate(257.05 374.98) scale(0.8 1)" text-anchor="middle" dominant-baseline="central" style="font-family:'Liberation Sans', sans-serif;font-size:10px;font-weight:bold">A</text>
<text class="b" transform="translate(540 375.53) scale(0.8 1)" text-anchor="middle" dominant-baseline="central" style="font-family:'Liberation Sans', sans-serif;font-size:10px;font-weight:bold">B</text>
<text class="b" transform="translate(670 376.31) scale(0.8 1)" text-anchor="middle" dominant-baseline="central" style="font-family:'Liberation Sans', sans-serif;font-size:10px;font-weight:bold">C</text>
<text class="b" transform="translate(62.9 366.11) scale(0.7 1)" text-anchor="middle" dominant-baseline="central" style="font-family:'Liberation Sans', sans-serif;font-size:8.4px;font-weight:bold">55</text>
<text class="b" transform="translate(88.8 366.2) scale(0.7 1)" text-anchor="middle" dominant-baseline="central" style="font-family:'Liberation Sans', sans-serif;font-size:8.4px;font-weight:bold">56</text>
<text class="b" transform="translate(140 365.89) scale(0.7 1)" text-anchor="middle" dominant-baseline="central" style="font-family:'Liberation Sans', sans-serif;font-size:8.4px;font-weight:bold">55</text>
<text class="b" transform="translate(179.6 365.64) scale(0.7 1)" text-anchor="middle" dominant-baseline="central" style="font-family:'Liberation Sans', sans-serif;font-size:8.4px;font-weight:bold">56</text>
<text class="b" transform="translate(218.2 365.58) scale(0.7 1)" text-anchor="middle" dominant-baseline="central" style="font-family:'Liberation Sans', sans-serif;font-size:8.4px;font-weight:bold">56</text>
<text class="b" transform="translate(282.3 365.72) scale(0.7 1)" text-anchor="middle" dominant-baseline="central" style="font-family:'Liberation Sans', sans-serif;font-size:8.4px;font-weight:bold">55</text>
<text class="b" transform="translate(307.9 365.82) scale(0.7 1)" text-anchor="middle" dominant-baseline="central" style="font-family:'Liberation Sans', sans-serif;font-size:8.4px;font-weight:bold">56</text>
<text class="b" transform="translate(333.3 365.91) scale(0.7 1)" text-anchor="middle" dominant-baseline="central" style="font-family:'Liberation Sans', sans-serif;font-size:8.4px;font-weight:bold">56</text>
<text class="b" transform="translate(486.2 367.38) scale(0.7 1)" text-anchor="middle" dominant-baseline="central" style="font-family:'Liberation Sans', sans-serif;font-size:8.4px;font-weight:bold">55</text>
<text class="b" transform="translate(537.5 365.87) scale(0.7 1)" text-anchor="middle" dominant-baseline="central" style="font-family:'Liberation Sans', sans-serif;font-size:8.4px;font-weight:bold">41</text>
<text class="b" transform="translate(576 368.31) scale(0.7 1)" text-anchor="middle" dominant-baseline="central" style="font-family:'Liberation Sans', sans-serif;font-size:8.4px;font-weight:bold">43</text>
<text class="b" transform="translate(653.6 368.4) scale(0.7 1)" text-anchor="middle" dominant-baseline="central" style="font-family:'Liberation Sans', sans-serif;font-size:8.4px;font-weight:bold">43</text>
<text class="b" transform="translate(730.7 370.09) scale(0.7 1)" text-anchor="middle" dominant-baseline="central" style="font-family:'Liberation Sans', sans-serif;font-size:8.4px;font-weight:bold">43</text>
<text class="b" transform="translate(63.3 49) scale(0.79 1)" text-anchor="middle" dominant-baseline="central" style="font-family:'Liberation Sans', sans-serif;font-size:6.5px;font-weight:bold">LC</text>
<text class="b" transform="translate(61.5 124.7) scale(0.79 1)" text-anchor="end" dominant-baseline="central" style="font-family:'Liberation Sans', sans-serif;font-size:6.5px;font-weight:bold">X53</text>
<text class="b" transform="translate(58.8 136) scale(0.79 1)" text-anchor="middle" dominant-baseline="central" style="font-family:'Liberation Sans', sans-serif;font-size:6.5px;font-weight:bold">4</text>
<text class="b" transform="translate(63.1 198.7) scale(0.79 1)" text-anchor="middle" dominant-baseline="central" style="font-family:'Liberation Sans', sans-serif;font-size:6.5px;font-weight:bold">LC</text>
<text class="c" transform="translate(67.5 226.7) scale(0.82 1)" text-anchor="start" dominant-baseline="central" style="font-family:'Liberation Sans', sans-serif;font-size:10.8px">X85/2</text>
<text class="b" transform="translate(63 294) scale(0.79 1)" text-anchor="middle" dominant-baseline="central" style="font-family:'Liberation Sans', sans-serif;font-size:6.5px;font-weight:bold">LC</text>
<text class="b" transform="translate(88.3 294) scale(0.79 1)" text-anchor="middle" dominant-baseline="central" style="font-family:'Liberation Sans', sans-serif;font-size:6.5px;font-weight:bold">LC</text>
<text class="b" transform="translate(89.2 49) scale(0.79 1)" text-anchor="middle" dominant-baseline="central" style="font-family:'Liberation Sans', sans-serif;font-size:6.5px;font-weight:bold">I</text>
<text class="b" transform="translate(90 82.5) scale(0.79 1)" text-anchor="middle" dominant-baseline="central" style="font-family:'Liberation Sans', sans-serif;font-size:6.5px;font-weight:bold">1/32</text>
<text class="b" transform="translate(115.8 33.3) scale(0.79 1)" text-anchor="middle" dominant-baseline="central" style="font-family:'Liberation Sans', sans-serif;font-size:4.6px;font-weight:bold">11/37</text>
<text class="b" transform="translate(115.8 49.5) scale(0.79 1)" text-anchor="middle" dominant-baseline="central" style="font-family:'Liberation Sans', sans-serif;font-size:6.5px;font-weight:bold">AC</text>
<text class="b" transform="translate(118 62.3) scale(0.79 1)" text-anchor="start" dominant-baseline="central" style="font-family:'Liberation Sans', sans-serif;font-size:6.5px;font-weight:bold">X53</text>
<text class="b" transform="translate(119.6 73.4) scale(0.79 1)" text-anchor="middle" dominant-baseline="central" style="font-family:'Liberation Sans', sans-serif;font-size:6.5px;font-weight:bold">2</text>
<text class="b" transform="translate(115.6 85.3) scale(0.79 1)" text-anchor="middle" dominant-baseline="central" style="font-family:'Liberation Sans', sans-serif;font-size:6.5px;font-weight:bold">AC</text>
<text class="b" transform="translate(115.5 130.8) scale(0.79 1)" text-anchor="middle" dominant-baseline="central" style="font-family:'Liberation Sans', sans-serif;font-size:6.5px;font-weight:bold">AC</text>
<text class="c" transform="translate(216.6 90.6) scale(0.85 1)" text-anchor="start" dominant-baseline="central" style="font-family:'Liberation Sans', sans-serif;font-size:6.8px" textLength="18.35" lengthAdjust="spacingAndGlyphs">X85/1</text>
<text class="c" transform="translate(119.6 139.5) scale(0.74 1)" text-anchor="start" dominant-baseline="central" style="font-family:'Liberation Sans', sans-serif;font-size:10.8px" textLength="24.86" lengthAdjust="spacingAndGlyphs">E15L</text>
<text class="b" transform="translate(112.1 148.7) scale(0.79 1)" text-anchor="middle" dominant-baseline="central" style="font-family:'Liberation Sans', sans-serif;font-size:3.2px;font-weight:bold">1</text>
<text class="b" transform="translate(111.6 198.7) scale(0.79 1)" text-anchor="middle" dominant-baseline="central" style="font-family:'Liberation Sans', sans-serif;font-size:6.5px;font-weight:bold">LC</text>
<text class="b" transform="translate(140.3 261.7) scale(0.79 1)" text-anchor="middle" dominant-baseline="central" style="font-family:'Liberation Sans', sans-serif;font-size:6.5px;font-weight:bold">L</text>
<text class="c" transform="translate(170.7 139.5) scale(0.74 1)" text-anchor="start" dominant-baseline="central" style="font-family:'Liberation Sans', sans-serif;font-size:10.8px" textLength="24.46" lengthAdjust="spacingAndGlyphs">E15R</text>
<text class="b" transform="translate(163.5 148.7) scale(0.79 1)" text-anchor="middle" dominant-baseline="central" style="font-family:'Liberation Sans', sans-serif;font-size:3.2px;font-weight:bold">1</text>
<text class="b" transform="translate(167 130.8) scale(0.79 1)" text-anchor="middle" dominant-baseline="central" style="font-family:'Liberation Sans', sans-serif;font-size:6.5px;font-weight:bold">AC</text>
<text class="b" transform="translate(163.3 221.7) scale(0.79 1)" text-anchor="middle" dominant-baseline="central" style="font-family:'Liberation Sans', sans-serif;font-size:6.5px;font-weight:bold">LC</text>
<text class="b" transform="translate(180 261.7) scale(0.79 1)" text-anchor="middle" dominant-baseline="central" style="font-family:'Liberation Sans', sans-serif;font-size:6.5px;font-weight:bold">L</text>
<text class="c" transform="translate(45.2 317) scale(0.74 1)" text-anchor="start" dominant-baseline="central" style="font-family:'Liberation Sans', sans-serif;font-size:10.8px" textLength="18.38" lengthAdjust="spacingAndGlyphs">S16</text>
<text class="c" transform="translate(93.2 316.8) scale(0.74 1)" text-anchor="start" dominant-baseline="central" style="font-family:'Liberation Sans', sans-serif;font-size:10.8px" textLength="18.38" lengthAdjust="spacingAndGlyphs">S17</text>
<text class="b" transform="translate(63 328.3) scale(0.79 1)" text-anchor="middle" dominant-baseline="central" style="font-family:'Liberation Sans', sans-serif;font-size:6.5px;font-weight:bold">L</text>
<text class="b" transform="translate(88.3 328.3) scale(0.79 1)" text-anchor="middle" dominant-baseline="central" style="font-family:'Liberation Sans', sans-serif;font-size:6.5px;font-weight:bold">L</text>
<text class="b" transform="translate(215.5 130.3) scale(0.79 1)" text-anchor="middle" dominant-baseline="central" style="font-family:'Liberation Sans', sans-serif;font-size:6.5px;font-weight:bold">AC</text>
<text class="b" transform="translate(209.6 140.8) scale(0.79 1)" text-anchor="middle" dominant-baseline="central" style="font-family:'Liberation Sans', sans-serif;font-size:6.5px;font-weight:bold">RL</text>
<text class="b" transform="translate(210.2 151.8) scale(0.79 1)" text-anchor="middle" dominant-baseline="central" style="font-family:'Liberation Sans', sans-serif;font-size:6.5px;font-weight:bold">1</text>
<text class="b" transform="translate(215.5 188.3) scale(0.79 1)" text-anchor="middle" dominant-baseline="central" style="font-family:'Liberation Sans', sans-serif;font-size:6.5px;font-weight:bold">AC</text>
<text class="b" transform="translate(254 188.3) scale(0.79 1)" text-anchor="middle" dominant-baseline="central" style="font-family:'Liberation Sans', sans-serif;font-size:6.5px;font-weight:bold">AC</text>
<text class="c" transform="translate(217.3 197.5) scale(0.74 1)" text-anchor="start" dominant-baseline="central" style="font-family:'Liberation Sans', sans-serif;font-size:10.8px" textLength="26.49" lengthAdjust="spacingAndGlyphs">E68L</text>
<text class="c" transform="translate(259 197.5) scale(0.74 1)" text-anchor="start" dominant-baseline="central" style="font-family:'Liberation Sans', sans-serif;font-size:10.8px" textLength="26.49" lengthAdjust="spacingAndGlyphs">E68R</text>
<text class="b" transform="translate(212.1 205.6) scale(0.79 1)" text-anchor="middle" dominant-baseline="central" style="font-family:'Liberation Sans', sans-serif;font-size:3.2px;font-weight:bold">1</text>
<text class="b" transform="translate(250.8 205.6) scale(0.79 1)" text-anchor="middle" dominant-baseline="central" style="font-family:'Liberation Sans', sans-serif;font-size:3.2px;font-weight:bold">1</text>
<text class="b" transform="translate(214.8 240.3) scale(0.79 1)" text-anchor="middle" dominant-baseline="central" style="font-family:'Liberation Sans', sans-serif;font-size:5px;font-weight:bold">L</text>
<text class="b" transform="translate(253.4 240.3) scale(0.79 1)" text-anchor="middle" dominant-baseline="central" style="font-family:'Liberation Sans', sans-serif;font-size:5px;font-weight:bold">L</text>
<text class="b" transform="translate(218.6 267.5) scale(0.79 1)" text-anchor="middle" dominant-baseline="central" style="font-family:'Liberation Sans', sans-serif;font-size:6.5px;font-weight:bold">L</text>
<text class="b" transform="translate(218.2 326.7) scale(0.79 1)" text-anchor="middle" dominant-baseline="central" style="font-family:'Liberation Sans', sans-serif;font-size:6.5px;font-weight:bold">L</text>
<text class="b" transform="translate(256.8 267.5) scale(0.79 1)" text-anchor="middle" dominant-baseline="central" style="font-family:'Liberation Sans', sans-serif;font-size:6.5px;font-weight:bold">L</text>
<text class="b" transform="translate(212.3 293.5) scale(0.79 1)" text-anchor="middle" dominant-baseline="central" style="font-family:'Liberation Sans', sans-serif;font-size:6.5px;font-weight:bold">RL</text>
<text class="b" transform="translate(213 304.2) scale(0.85 1)" text-anchor="middle" dominant-baseline="central" style="font-family:'Liberation Sans', sans-serif;font-size:7.2px;font-weight:bold">2</text>
<text class="b" transform="translate(282.5 234.6) scale(0.79 1)" text-anchor="middle" dominant-baseline="central" style="font-family:'Liberation Sans', sans-serif;font-size:4.6px;font-weight:bold">8/31</text>
<text class="b" transform="translate(282.5 264.8) scale(0.79 1)" text-anchor="middle" dominant-baseline="central" style="font-family:'Liberation Sans', sans-serif;font-size:6.5px;font-weight:bold">EF</text>
<text class="b" transform="translate(282.5 326.6) scale(0.79 1)" text-anchor="middle" dominant-baseline="central" style="font-family:'Liberation Sans', sans-serif;font-size:6.5px;font-weight:bold">L</text>
<text class="b" transform="translate(307.8 228.9) scale(0.79 1)" text-anchor="middle" dominant-baseline="central" style="font-family:'Liberation Sans', sans-serif;font-size:4.6px;font-weight:bold">5/17</text>
<text class="b" transform="translate(307.8 264.8) scale(0.79 1)" text-anchor="middle" dominant-baseline="central" style="font-family:'Liberation Sans', sans-serif;font-size:6.5px;font-weight:bold">EA</text>
<text class="b" transform="translate(307.8 326.6) scale(0.79 1)" text-anchor="middle" dominant-baseline="central" style="font-family:'Liberation Sans', sans-serif;font-size:6.5px;font-weight:bold">L</text>
<text class="c" transform="translate(266 278) scale(0.74 1)" text-anchor="start" dominant-baseline="central" style="font-family:'Liberation Sans', sans-serif;font-size:10.8px" textLength="18.38" lengthAdjust="spacingAndGlyphs">E7L</text>
<text class="c" transform="translate(289.9 278) scale(0.74 1)" text-anchor="start" dominant-baseline="central" style="font-family:'Liberation Sans', sans-serif;font-size:10.8px" textLength="19.19" lengthAdjust="spacingAndGlyphs">E7R</text>
<text class="b" transform="translate(313.3 131.7) scale(0.79 1)" text-anchor="middle" dominant-baseline="central" style="font-family:'Liberation Sans', sans-serif;font-size:6.5px;font-weight:bold">AC</text>
<text class="b" transform="translate(329.2 131.7) scale(0.79 1)" text-anchor="middle" dominant-baseline="central" style="font-family:'Liberation Sans', sans-serif;font-size:6.5px;font-weight:bold">AC</text>
<text class="c" transform="translate(333.2 139.7) scale(0.74 1)" text-anchor="start" dominant-baseline="central" style="font-family:'Liberation Sans', sans-serif;font-size:10.8px" textLength="18.65" lengthAdjust="spacingAndGlyphs">E18</text>
<text class="b" transform="translate(311.7 149.8) scale(0.79 1)" text-anchor="middle" dominant-baseline="central" style="font-family:'Liberation Sans', sans-serif;font-size:3.2px;font-weight:bold">1</text>
<text class="b" transform="translate(326.8 149.8) scale(0.79 1)" text-anchor="middle" dominant-baseline="central" style="font-family:'Liberation Sans', sans-serif;font-size:3.2px;font-weight:bold">4</text>
<text class="b" transform="translate(321.2 174.8) scale(0.79 1)" text-anchor="middle" dominant-baseline="central" style="font-family:'Liberation Sans', sans-serif;font-size:4.2px;font-weight:bold">5</text>
<text class="b" transform="translate(333.3 261.4) scale(0.79 1)" text-anchor="middle" dominant-baseline="central" style="font-family:'Liberation Sans', sans-serif;font-size:6.5px;font-weight:bold">L</text>
<text class="c" transform="translate(400 157.4) scale(0.77 1)" text-anchor="start" dominant-baseline="central" style="font-family:'Liberation Sans', sans-serif;font-size:11px">A12</text>
<text class="b" transform="translate(371.2 147.6) scale(0.79 1)" text-anchor="middle" dominant-baseline="central" style="font-family:'Liberation Sans', sans-serif;font-size:4.3px;font-weight:bold">2(+)</text>
<text class="b" transform="translate(397.5 147.6) scale(0.79 1)" text-anchor="middle" dominant-baseline="central" style="font-family:'Liberation Sans', sans-serif;font-size:4.3px;font-weight:bold">1(−)</text>
<text class="b" transform="translate(422 147.6) scale(0.79 1)" text-anchor="middle" dominant-baseline="central" style="font-family:'Liberation Sans', sans-serif;font-size:4.3px;font-weight:bold">3(W)</text>
<text class="b" transform="translate(449.2 147.6) scale(0.79 1)" text-anchor="middle" dominant-baseline="central" style="font-family:'Liberation Sans', sans-serif;font-size:4.3px;font-weight:bold">4(H)</text>
<text class="b" transform="translate(362.7 165) scale(0.79 1)" text-anchor="middle" dominant-baseline="central" style="font-family:'Liberation Sans', sans-serif;font-size:4.3px;font-weight:bold">5</text>
<text class="b" transform="translate(375.7 165) scale(0.79 1)" text-anchor="middle" dominant-baseline="central" style="font-family:'Liberation Sans', sans-serif;font-size:4.3px;font-weight:bold">6</text>
<text class="b" transform="translate(388 165) scale(0.79 1)" text-anchor="middle" dominant-baseline="central" style="font-family:'Liberation Sans', sans-serif;font-size:4.3px;font-weight:bold">7</text>
<text class="b" transform="translate(400.7 165) scale(0.79 1)" text-anchor="middle" dominant-baseline="central" style="font-family:'Liberation Sans', sans-serif;font-size:4.3px;font-weight:bold">8</text>
<text class="b" transform="translate(413.5 165) scale(0.79 1)" text-anchor="middle" dominant-baseline="central" style="font-family:'Liberation Sans', sans-serif;font-size:4.3px;font-weight:bold">9</text>
<text class="b" transform="translate(426.3 165) scale(0.79 1)" text-anchor="middle" dominant-baseline="central" style="font-family:'Liberation Sans', sans-serif;font-size:4.3px;font-weight:bold">10</text>
<text class="b" transform="translate(438.8 165) scale(0.79 1)" text-anchor="middle" dominant-baseline="central" style="font-family:'Liberation Sans', sans-serif;font-size:4.3px;font-weight:bold">11</text>
<text class="b" transform="translate(451.8 165) scale(0.79 1)" text-anchor="middle" dominant-baseline="central" style="font-family:'Liberation Sans', sans-serif;font-size:4.3px;font-weight:bold">12</text>
<text class="b" transform="translate(371.3 121.7) scale(0.79 1)" text-anchor="middle" dominant-baseline="central" style="font-family:'Liberation Sans', sans-serif;font-size:6.5px;font-weight:bold">AC</text>
<text class="b" transform="translate(398.3 68) scale(0.79 1)" text-anchor="middle" dominant-baseline="central" style="font-family:'Liberation Sans', sans-serif;font-size:4.6px;font-weight:bold">1/4</text>
<text class="b" transform="translate(397.5 87.7) scale(0.79 1)" text-anchor="middle" dominant-baseline="central" style="font-family:'Liberation Sans', sans-serif;font-size:6.5px;font-weight:bold">LA</text>
<text class="b" transform="translate(400.6 100) scale(0.79 1)" text-anchor="start" dominant-baseline="central" style="font-family:'Liberation Sans', sans-serif;font-size:6.5px;font-weight:bold">X53</text>
<text class="b" transform="translate(402 110) scale(0.79 1)" text-anchor="middle" dominant-baseline="central" style="font-family:'Liberation Sans', sans-serif;font-size:6.5px;font-weight:bold">1</text>
<text class="b" transform="translate(397.5 121.7) scale(0.79 1)" text-anchor="middle" dominant-baseline="central" style="font-family:'Liberation Sans', sans-serif;font-size:6.5px;font-weight:bold">LA</text>
<text class="b" transform="translate(422.2 68) scale(0.79 1)" text-anchor="middle" dominant-baseline="central" style="font-family:'Liberation Sans', sans-serif;font-size:4.6px;font-weight:bold">5/8</text>
<text class="b" transform="translate(422 121.7) scale(0.79 1)" text-anchor="middle" dominant-baseline="central" style="font-family:'Liberation Sans', sans-serif;font-size:6.5px;font-weight:bold">EF</text>
<text class="b" transform="translate(436.3 73.3) scale(0.79 1)" text-anchor="middle" dominant-baseline="central" style="font-family:'Liberation Sans', sans-serif;font-size:4.6px;font-weight:bold">6/19</text>
<text class="b" transform="translate(436.1 100) scale(0.79 1)" text-anchor="middle" dominant-baseline="central" style="font-family:'Liberation Sans', sans-serif;font-size:6.5px;font-weight:bold">EF</text>
<text class="b" transform="translate(486.4 320) scale(0.79 1)" text-anchor="middle" dominant-baseline="central" style="font-family:'Liberation Sans', sans-serif;font-size:6.5px;font-weight:bold">L</text>
<text class="b" transform="translate(467.65 230.4) scale(0.9 1)" text-anchor="middle" dominant-baseline="central" style="font-family:'Liberation Sans', sans-serif;font-size:5px;font-weight:bold">8ª</text>
<text class="c" transform="translate(460.3 218.6) scale(0.77 1)" text-anchor="start" dominant-baseline="central" style="font-family:'Liberation Sans', sans-serif;font-size:10.4px">B17</text>
<text class="b" transform="translate(459.2 225.1) scale(0.79 1)" text-anchor="middle" dominant-baseline="central" style="font-family:'Liberation Sans', sans-serif;font-size:4.5px;font-weight:bold">−</text>
<text class="b" transform="translate(459.2 234.8) scale(0.79 1)" text-anchor="middle" dominant-baseline="central" style="font-family:'Liberation Sans', sans-serif;font-size:4.5px;font-weight:bold">+</text>
<text class="b" transform="translate(441.7 254.4) scale(0.9 1)" text-anchor="middle" dominant-baseline="central" style="font-family:'Liberation Sans', sans-serif;font-size:5px;font-weight:bold">8ª</text>
<text class="c" transform="translate(434.7 241.3) scale(0.77 1)" text-anchor="start" dominant-baseline="central" style="font-family:'Liberation Sans', sans-serif;font-size:10.4px">B16</text>
<text class="b" transform="translate(433.6 249) scale(0.79 1)" text-anchor="middle" dominant-baseline="central" style="font-family:'Liberation Sans', sans-serif;font-size:4.5px;font-weight:bold">−</text>
<text class="b" transform="translate(433.6 258.8) scale(0.79 1)" text-anchor="middle" dominant-baseline="central" style="font-family:'Liberation Sans', sans-serif;font-size:4.5px;font-weight:bold">+</text>
<text class="b" transform="translate(416.45 281) scale(0.9 1)" text-anchor="middle" dominant-baseline="central" style="font-family:'Liberation Sans', sans-serif;font-size:5px;font-weight:bold">8ª</text>
<text class="c" transform="translate(409 269.7) scale(0.77 1)" text-anchor="start" dominant-baseline="central" style="font-family:'Liberation Sans', sans-serif;font-size:10.4px">B15</text>
<text class="b" transform="translate(408.1 276.4) scale(0.79 1)" text-anchor="middle" dominant-baseline="central" style="font-family:'Liberation Sans', sans-serif;font-size:4.5px;font-weight:bold">−</text>
<text class="b" transform="translate(408.1 286.2) scale(0.79 1)" text-anchor="middle" dominant-baseline="central" style="font-family:'Liberation Sans', sans-serif;font-size:4.5px;font-weight:bold">+</text>
<text class="b" transform="translate(390.75 305.35) scale(0.9 1)" text-anchor="middle" dominant-baseline="central" style="font-family:'Liberation Sans', sans-serif;font-size:5px;font-weight:bold">8ª</text>
<text class="c" transform="translate(383.5 292.5) scale(0.77 1)" text-anchor="start" dominant-baseline="central" style="font-family:'Liberation Sans', sans-serif;font-size:10.4px">B14</text>
<text class="b" transform="translate(382.5 300.2) scale(0.79 1)" text-anchor="middle" dominant-baseline="central" style="font-family:'Liberation Sans', sans-serif;font-size:4.5px;font-weight:bold">−</text>
<text class="b" transform="translate(382.5 310) scale(0.79 1)" text-anchor="middle" dominant-baseline="central" style="font-family:'Liberation Sans', sans-serif;font-size:4.5px;font-weight:bold">+</text>
<text class="b" transform="translate(362.7 236.7) scale(0.79 1)" text-anchor="middle" dominant-baseline="central" style="font-family:'Liberation Sans', sans-serif;font-size:6.5px;font-weight:bold">KA</text>
<text class="b" transform="translate(375.7 236.7) scale(0.79 1)" text-anchor="middle" dominant-baseline="central" style="font-family:'Liberation Sans', sans-serif;font-size:6.5px;font-weight:bold">LN</text>
<text class="b" transform="translate(388 223.7) scale(0.79 1)" text-anchor="middle" dominant-baseline="central" style="font-family:'Liberation Sans', sans-serif;font-size:6.5px;font-weight:bold">KB</text>
<text class="b" transform="translate(400.7 223.7) scale(0.79 1)" text-anchor="middle" dominant-baseline="central" style="font-family:'Liberation Sans', sans-serif;font-size:6.5px;font-weight:bold">LB</text>
<text class="b" transform="translate(413.5 210.8) scale(0.79 1)" text-anchor="middle" dominant-baseline="central" style="font-family:'Liberation Sans', sans-serif;font-size:6.5px;font-weight:bold">KD</text>
<text class="b" transform="translate(426.3 210.8) scale(0.79 1)" text-anchor="middle" dominant-baseline="central" style="font-family:'Liberation Sans', sans-serif;font-size:6.5px;font-weight:bold">LD</text>
<text class="b" transform="translate(438.8 200.8) scale(0.79 1)" text-anchor="middle" dominant-baseline="central" style="font-family:'Liberation Sans', sans-serif;font-size:6.5px;font-weight:bold">KE</text>
<text class="b" transform="translate(451.8 200.8) scale(0.79 1)" text-anchor="middle" dominant-baseline="central" style="font-family:'Liberation Sans', sans-serif;font-size:6.5px;font-weight:bold">LK</text>
<text class="b" transform="translate(512.9 72) scale(0.79 1)" text-anchor="middle" dominant-baseline="central" style="font-family:'Liberation Sans', sans-serif;font-size:6.5px;font-weight:bold">BKC</text>
<text class="b" transform="translate(508.5 163.3) scale(0.79 1)" text-anchor="end" dominant-baseline="central" style="font-family:'Liberation Sans', sans-serif;font-size:6.5px;font-weight:bold">X56/8</text>
<text class="b" transform="translate(507.2 174) scale(0.79 1)" text-anchor="middle" dominant-baseline="central" style="font-family:'Liberation Sans', sans-serif;font-size:6.5px;font-weight:bold">1</text>
<text class="b" transform="translate(512.3 253.7) scale(0.79 1)" text-anchor="middle" dominant-baseline="central" style="font-family:'Liberation Sans', sans-serif;font-size:6.5px;font-weight:bold">BKC</text>
<text class="c" transform="translate(515 318.3) scale(0.74 1)" text-anchor="start" dominant-baseline="central" style="font-family:'Liberation Sans', sans-serif;font-size:10.8px" textLength="19.46" lengthAdjust="spacingAndGlyphs">E23</text>
<text class="b" transform="translate(538.3 72) scale(0.79 1)" text-anchor="middle" dominant-baseline="central" style="font-family:'Liberation Sans', sans-serif;font-size:6.5px;font-weight:bold">FA</text>
<text class="b" transform="translate(532.5 125.3) scale(0.79 1)" text-anchor="middle" dominant-baseline="central" style="font-family:'Liberation Sans', sans-serif;font-size:6.5px;font-weight:bold">TC</text>
<text class="b" transform="translate(533.6 135.9) scale(0.79 1)" text-anchor="middle" dominant-baseline="central" style="font-family:'Liberation Sans', sans-serif;font-size:6.5px;font-weight:bold">5</text>
<text class="b" transform="translate(537.9 205.3) scale(0.79 1)" text-anchor="middle" dominant-baseline="central" style="font-family:'Liberation Sans', sans-serif;font-size:6.5px;font-weight:bold">FA</text>
<text class="c" transform="translate(518 276.3) scale(0.74 1)" text-anchor="start" dominant-baseline="central" style="font-family:'Liberation Sans', sans-serif;font-size:10.8px" textLength="12.43" lengthAdjust="spacingAndGlyphs">H1</text>
<text class="b" transform="translate(537.5 334.7) scale(0.79 1)" text-anchor="middle" dominant-baseline="central" style="font-family:'Liberation Sans', sans-serif;font-size:6.5px;font-weight:bold">L</text>
<text class="b" transform="translate(577.5 72.5) scale(0.79 1)" text-anchor="middle" dominant-baseline="central" style="font-family:'Liberation Sans', sans-serif;font-size:6.5px;font-weight:bold">FC</text>
<text class="b" transform="translate(570.8 125.3) scale(0.79 1)" text-anchor="middle" dominant-baseline="central" style="font-family:'Liberation Sans', sans-serif;font-size:6.5px;font-weight:bold">TC</text>
<text class="b" transform="translate(571.6 135.9) scale(0.79 1)" text-anchor="middle" dominant-baseline="central" style="font-family:'Liberation Sans', sans-serif;font-size:6.5px;font-weight:bold">9</text>
<text class="b" transform="translate(576.6 205.3) scale(0.79 1)" text-anchor="middle" dominant-baseline="central" style="font-family:'Liberation Sans', sans-serif;font-size:6.5px;font-weight:bold">FC</text>
<text class="b" transform="translate(569.2 227) scale(0.79 1)" text-anchor="middle" dominant-baseline="central" style="font-family:'Liberation Sans', sans-serif;font-size:6.5px;font-weight:bold">Y88</text>
<text class="b" transform="translate(570.6 235.9) scale(0.79 1)" text-anchor="middle" dominant-baseline="central" style="font-family:'Liberation Sans', sans-serif;font-size:6.5px;font-weight:bold">2</text>
<text class="c" transform="translate(559 247.4) scale(0.74 1)" text-anchor="start" dominant-baseline="central" style="font-family:'Liberation Sans', sans-serif;font-size:10.8px" textLength="18.65" lengthAdjust="spacingAndGlyphs">Y88</text>
<text class="b" transform="translate(568.3 279.7) scale(0.79 1)" text-anchor="middle" dominant-baseline="central" style="font-family:'Liberation Sans', sans-serif;font-size:6.5px;font-weight:bold">Y88</text>
<text class="b" transform="translate(570 288.8) scale(0.79 1)" text-anchor="middle" dominant-baseline="central" style="font-family:'Liberation Sans', sans-serif;font-size:6.5px;font-weight:bold">1</text>
<text class="b" transform="translate(576 334.7) scale(0.79 1)" text-anchor="middle" dominant-baseline="central" style="font-family:'Liberation Sans', sans-serif;font-size:6.5px;font-weight:bold">L</text>
<text class="b" transform="translate(628.7 72.5) scale(0.79 1)" text-anchor="middle" dominant-baseline="central" style="font-family:'Liberation Sans', sans-serif;font-size:6.5px;font-weight:bold">GF</text>
<text class="c" transform="translate(641.3 93.7) scale(0.74 1)" text-anchor="start" dominant-baseline="central" style="font-family:'Liberation Sans', sans-serif;font-size:10.8px" textLength="38.78" lengthAdjust="spacingAndGlyphs">X126/5</text>
<text class="b" transform="translate(628.7 135) scale(0.79 1)" text-anchor="middle" dominant-baseline="central" style="font-family:'Liberation Sans', sans-serif;font-size:6.5px;font-weight:bold">GF</text>
<text class="b" transform="translate(654.2 135) scale(0.79 1)" text-anchor="middle" dominant-baseline="central" style="font-family:'Liberation Sans', sans-serif;font-size:6.5px;font-weight:bold">GF</text>
<text class="b" transform="translate(622 164.7) scale(0.79 1)" text-anchor="end" dominant-baseline="central" style="font-family:'Liberation Sans', sans-serif;font-size:6.5px;font-weight:bold">X56/1</text>
<text class="b" transform="translate(625.2 175.8) scale(0.79 1)" text-anchor="middle" dominant-baseline="central" style="font-family:'Liberation Sans', sans-serif;font-size:6.5px;font-weight:bold">7</text>
<text class="b" transform="translate(648.5 165.4) scale(0.79 1)" text-anchor="middle" dominant-baseline="central" style="font-family:'Liberation Sans', sans-serif;font-size:6.5px;font-weight:bold">TA</text>
<text class="b" transform="translate(648.8 175.8) scale(0.79 1)" text-anchor="middle" dominant-baseline="central" style="font-family:'Liberation Sans', sans-serif;font-size:6.5px;font-weight:bold">3</text>
<text class="b" transform="translate(628.7 194.2) scale(0.79 1)" text-anchor="middle" dominant-baseline="central" style="font-family:'Liberation Sans', sans-serif;font-size:6.5px;font-weight:bold">GF</text>
<text class="b" transform="translate(654.2 194.2) scale(0.79 1)" text-anchor="middle" dominant-baseline="central" style="font-family:'Liberation Sans', sans-serif;font-size:6.5px;font-weight:bold">GF</text>
<text class="b" transform="translate(620 214.7) scale(0.9 1)" text-anchor="middle" dominant-baseline="central" style="font-family:'Liberation Sans', sans-serif;font-size:4.2px;font-weight:bold">11.2</text>
<text class="c" transform="translate(598.3 218.3) scale(0.74 1)" text-anchor="start" dominant-baseline="central" style="font-family:'Liberation Sans', sans-serif;font-size:10.8px" textLength="17.57" lengthAdjust="spacingAndGlyphs">X12</text>
<text class="b" transform="translate(596.6 235.8) scale(0.9 1)" text-anchor="middle" dominant-baseline="central" style="font-family:'Liberation Sans', sans-serif;font-size:4.2px;font-weight:bold">9.2</text>
<text class="b" transform="translate(619 235.8) scale(0.9 1)" text-anchor="middle" dominant-baseline="central" style="font-family:'Liberation Sans', sans-serif;font-size:4.2px;font-weight:bold">10.2</text>
<text class="b" transform="translate(606.7 245) scale(0.79 1)" text-anchor="middle" dominant-baseline="central" style="font-family:'Liberation Sans', sans-serif;font-size:6.5px;font-weight:bold">GF</text>
<text class="b" transform="translate(628.7 245) scale(0.79 1)" text-anchor="middle" dominant-baseline="central" style="font-family:'Liberation Sans', sans-serif;font-size:6.5px;font-weight:bold">GF</text>
<text class="b" transform="translate(610.6 259.2) scale(0.79 1)" text-anchor="middle" dominant-baseline="central" style="font-family:'Liberation Sans', sans-serif;font-size:6.5px;font-weight:bold">3</text>
<text class="b" transform="translate(606 270.2) scale(0.79 1)" text-anchor="middle" dominant-baseline="central" style="font-family:'Liberation Sans', sans-serif;font-size:6.5px;font-weight:bold">X5</text>
<text class="b" transform="translate(637 259.3) scale(0.79 1)" text-anchor="middle" dominant-baseline="central" style="font-family:'Liberation Sans', sans-serif;font-size:6.5px;font-weight:bold">X33L</text>
<text class="b" transform="translate(632.8 271.6) scale(0.79 1)" text-anchor="middle" dominant-baseline="central" style="font-family:'Liberation Sans', sans-serif;font-size:6.5px;font-weight:bold">2</text>
<text class="c" transform="translate(606.6 288) scale(0.74 1)" text-anchor="start" dominant-baseline="central" style="font-family:'Liberation Sans', sans-serif;font-size:10.8px" textLength="20" lengthAdjust="spacingAndGlyphs">E54</text>
<text class="b" transform="translate(637 300.8) scale(0.79 1)" text-anchor="middle" dominant-baseline="central" style="font-family:'Liberation Sans', sans-serif;font-size:6.5px;font-weight:bold">X33L</text>
<text class="b" transform="translate(632.6 311) scale(0.79 1)" text-anchor="middle" dominant-baseline="central" style="font-family:'Liberation Sans', sans-serif;font-size:6.5px;font-weight:bold">1</text>
<text class="b" transform="translate(648.7 218.4) scale(0.79 1)" text-anchor="middle" dominant-baseline="central" style="font-family:'Liberation Sans', sans-serif;font-size:6.5px;font-weight:bold">E3</text>
<text class="b" transform="translate(649.5 228.4) scale(0.79 1)" text-anchor="middle" dominant-baseline="central" style="font-family:'Liberation Sans', sans-serif;font-size:6.5px;font-weight:bold">2</text>
<text class="c" transform="translate(657.3 246.5) scale(0.74 1)" text-anchor="start" dominant-baseline="central" style="font-family:'Liberation Sans', sans-serif;font-size:10.8px" textLength="19.19" lengthAdjust="spacingAndGlyphs">E10</text>
<text class="b" transform="translate(658.4 269.2) scale(0.79 1)" text-anchor="middle" dominant-baseline="central" style="font-family:'Liberation Sans', sans-serif;font-size:6.5px;font-weight:bold">E3</text>
<text class="b" transform="translate(657 280) scale(0.79 1)" text-anchor="middle" dominant-baseline="central" style="font-family:'Liberation Sans', sans-serif;font-size:6.5px;font-weight:bold">1</text>
<text class="b" transform="translate(653.5 325) scale(0.79 1)" text-anchor="middle" dominant-baseline="central" style="font-family:'Liberation Sans', sans-serif;font-size:6.5px;font-weight:bold">L</text>
<text class="b" transform="translate(705.9 73) scale(0.79 1)" text-anchor="middle" dominant-baseline="central" style="font-family:'Liberation Sans', sans-serif;font-size:6.5px;font-weight:bold">GA</text>
<text class="c" transform="translate(717 94.2) scale(0.74 1)" text-anchor="start" dominant-baseline="central" style="font-family:'Liberation Sans', sans-serif;font-size:10.8px" textLength="37.84" lengthAdjust="spacingAndGlyphs">X126/6</text>
<text class="b" transform="translate(705.8 135.3) scale(0.79 1)" text-anchor="middle" dominant-baseline="central" style="font-family:'Liberation Sans', sans-serif;font-size:6.5px;font-weight:bold">GA</text>
<text class="b" transform="translate(731.9 135.3) scale(0.79 1)" text-anchor="middle" dominant-baseline="central" style="font-family:'Liberation Sans', sans-serif;font-size:6.5px;font-weight:bold">GA</text>
<text class="b" transform="translate(699.5 164.7) scale(0.79 1)" text-anchor="end" dominant-baseline="central" style="font-family:'Liberation Sans', sans-serif;font-size:6.5px;font-weight:bold">X56/1</text>
<text class="b" transform="translate(700.5 176.7) scale(0.79 1)" text-anchor="middle" dominant-baseline="central" style="font-family:'Liberation Sans', sans-serif;font-size:6.5px;font-weight:bold">9</text>
<text class="b" transform="translate(725 166.6) scale(0.79 1)" text-anchor="middle" dominant-baseline="central" style="font-family:'Liberation Sans', sans-serif;font-size:6.5px;font-weight:bold">TB</text>
<text class="b" transform="translate(726 177.6) scale(0.79 1)" text-anchor="middle" dominant-baseline="central" style="font-family:'Liberation Sans', sans-serif;font-size:6.5px;font-weight:bold">3</text>
<text class="b" transform="translate(705.5 194.4) scale(0.79 1)" text-anchor="middle" dominant-baseline="central" style="font-family:'Liberation Sans', sans-serif;font-size:6.5px;font-weight:bold">GA</text>
<text class="b" transform="translate(731.6 194.2) scale(0.79 1)" text-anchor="middle" dominant-baseline="central" style="font-family:'Liberation Sans', sans-serif;font-size:6.5px;font-weight:bold">GA</text>
<text class="b" transform="translate(697 214.7) scale(0.9 1)" text-anchor="middle" dominant-baseline="central" style="font-family:'Liberation Sans', sans-serif;font-size:4.2px;font-weight:bold">6.2</text>
<text class="c" transform="translate(675.8 218.3) scale(0.74 1)" text-anchor="start" dominant-baseline="central" style="font-family:'Liberation Sans', sans-serif;font-size:10.8px" textLength="17.03" lengthAdjust="spacingAndGlyphs">X12</text>
<text class="b" transform="translate(677 235.8) scale(0.9 1)" text-anchor="middle" dominant-baseline="central" style="font-family:'Liberation Sans', sans-serif;font-size:4.2px;font-weight:bold">8.2</text>
<text class="b" transform="translate(697.5 235.8) scale(0.9 1)" text-anchor="middle" dominant-baseline="central" style="font-family:'Liberation Sans', sans-serif;font-size:4.2px;font-weight:bold">7.2</text>
<text class="b" transform="translate(684.7 245) scale(0.79 1)" text-anchor="middle" dominant-baseline="central" style="font-family:'Liberation Sans', sans-serif;font-size:6.5px;font-weight:bold">GA</text>
<text class="b" transform="translate(705.3 245) scale(0.79 1)" text-anchor="middle" dominant-baseline="central" style="font-family:'Liberation Sans', sans-serif;font-size:6.5px;font-weight:bold">GA</text>
<text class="b" transform="translate(688.5 259.2) scale(0.79 1)" text-anchor="middle" dominant-baseline="central" style="font-family:'Liberation Sans', sans-serif;font-size:6.5px;font-weight:bold">5</text>
<text class="b" transform="translate(684 270.2) scale(0.79 1)" text-anchor="middle" dominant-baseline="central" style="font-family:'Liberation Sans', sans-serif;font-size:6.5px;font-weight:bold">X5</text>
<text class="b" transform="translate(715 259.3) scale(0.79 1)" text-anchor="middle" dominant-baseline="central" style="font-family:'Liberation Sans', sans-serif;font-size:6.5px;font-weight:bold">X33R</text>
<text class="b" transform="translate(710 271.6) scale(0.79 1)" text-anchor="middle" dominant-baseline="central" style="font-family:'Liberation Sans', sans-serif;font-size:6.5px;font-weight:bold">2</text>
<text class="c" transform="translate(685 288) scale(0.74 1)" text-anchor="start" dominant-baseline="central" style="font-family:'Liberation Sans', sans-serif;font-size:10.8px" textLength="20.27" lengthAdjust="spacingAndGlyphs">E55</text>
<text class="b" transform="translate(714.5 300.8) scale(0.79 1)" text-anchor="middle" dominant-baseline="central" style="font-family:'Liberation Sans', sans-serif;font-size:6.5px;font-weight:bold">X33R</text>
<text class="b" transform="translate(709.6 311) scale(0.79 1)" text-anchor="middle" dominant-baseline="central" style="font-family:'Liberation Sans', sans-serif;font-size:6.5px;font-weight:bold">1</text>
<text class="b" transform="translate(724.2 218.4) scale(0.79 1)" text-anchor="middle" dominant-baseline="central" style="font-family:'Liberation Sans', sans-serif;font-size:6.5px;font-weight:bold">E4</text>
<text class="b" transform="translate(726 228.3) scale(0.79 1)" text-anchor="middle" dominant-baseline="central" style="font-family:'Liberation Sans', sans-serif;font-size:6.5px;font-weight:bold">2</text>
<text class="c" transform="translate(733.6 246.7) scale(0.74 1)" text-anchor="start" dominant-baseline="central" style="font-family:'Liberation Sans', sans-serif;font-size:10.8px" textLength="20" lengthAdjust="spacingAndGlyphs">E12</text>
<text class="b" transform="translate(724.2 270.8) scale(0.79 1)" text-anchor="middle" dominant-baseline="central" style="font-family:'Liberation Sans', sans-serif;font-size:6.5px;font-weight:bold">E4</text>
<text class="b" transform="translate(726 279) scale(0.79 1)" text-anchor="middle" dominant-baseline="central" style="font-family:'Liberation Sans', sans-serif;font-size:6.5px;font-weight:bold">1</text>
<text class="b" transform="translate(730.7 325) scale(0.79 1)" text-anchor="middle" dominant-baseline="central" style="font-family:'Liberation Sans', sans-serif;font-size:6.5px;font-weight:bold">L</text>
<text class="s" transform="translate(6.6 397.5) scale(0.95 1)" text-anchor="start" dominant-baseline="central" style="font-family:'Liberation Serif', serif;font-size:9px">A100</text>
<text class="s" transform="translate(43.8 397.78) scale(0.95 1)" text-anchor="start" dominant-baseline="central" style="font-family:'Liberation Serif', serif;font-size:9px">правоконтрольный модуль</text>
<text class="s" transform="translate(168.3 398.69) scale(0.95 1)" text-anchor="start" dominant-baseline="central" style="font-family:'Liberation Serif', serif;font-size:9px">S17</text>
<text class="s" transform="translate(194.9 394.52) scale(0.95 1)" text-anchor="start" dominant-baseline="central" style="font-family:'Liberation Serif', serif;font-size:9px">переключатель лампы</text>
<text class="s" transform="translate(194.9 402.32) scale(0.95 1)" text-anchor="start" dominant-baseline="central" style="font-family:'Liberation Serif', serif;font-size:9px">правой двери</text>
<text class="s" transform="translate(279.9 399.51) scale(0.95 1)" text-anchor="start" dominant-baseline="central" style="font-family:'Liberation Serif', serif;font-size:9px">Y88</text>
<text class="s" transform="translate(320.1 395.33) scale(0.95 1)" text-anchor="start" dominant-baseline="central" style="font-family:'Liberation Serif', serif;font-size:9px">электромагнитный</text>
<text class="s" transform="translate(320.1 403.13) scale(0.95 1)" text-anchor="start" dominant-baseline="central" style="font-family:'Liberation Serif', serif;font-size:9px">вентиль с аэрогутком</text>
<text class="s" transform="translate(6.6 416.15) scale(0.95 1)" text-anchor="start" dominant-baseline="central" style="font-family:'Liberation Serif', serif;font-size:9px">E15L.R</text>
<text class="s" transform="translate(43.8 412.62) scale(0.95 1)" text-anchor="start" dominant-baseline="central" style="font-family:'Liberation Serif', serif;font-size:9px">левая и правая внешняя</text>
<text class="s" transform="translate(43.8 420.42) scale(0.95 1)" text-anchor="start" dominant-baseline="central" style="font-family:'Liberation Serif', serif;font-size:9px">лампа</text>
<text class="s" transform="translate(168.3 417.22) scale(0.95 1)" text-anchor="start" dominant-baseline="central" style="font-family:'Liberation Serif', serif;font-size:9px">A12</text>
<text class="s" transform="translate(194.9 417.4) scale(0.95 1)" text-anchor="start" dominant-baseline="central" style="font-family:'Liberation Serif', serif;font-size:9px">тюнер</text>
<text class="s" transform="translate(279.9 417.96) scale(0.95 1)" text-anchor="start" dominant-baseline="central" style="font-family:'Liberation Serif', serif;font-size:9px">S48, S49</text>
<text class="s" transform="translate(320.1 418.22) scale(0.95 1)" text-anchor="start" dominant-baseline="central" style="font-family:'Liberation Serif', serif;font-size:9px">включатель гутка</text>
<text class="s" transform="translate(6.6 434.75) scale(0.95 1)" text-anchor="start" dominant-baseline="central" style="font-family:'Liberation Serif', serif;font-size:9px">E18</text>
<text class="s" transform="translate(43.8 430.79) scale(0.95 1)" text-anchor="start" dominant-baseline="central" style="font-family:'Liberation Serif', serif;font-size:9px">внешнее освешение средней</text>
<text class="s" transform="translate(43.8 438.59) scale(0.95 1)" text-anchor="start" dominant-baseline="central" style="font-family:'Liberation Serif', serif;font-size:9px">части</text>
<text class="s" transform="translate(168.3 435.96) scale(0.95 1)" text-anchor="start" dominant-baseline="central" style="font-family:'Liberation Serif', serif;font-size:9px">B14</text>
<text class="s" transform="translate(194.9 431.54) scale(0.95 1)" text-anchor="start" dominant-baseline="central" style="font-family:'Liberation Serif', serif;font-size:9px">левой передний</text>
<text class="s" transform="translate(194.9 439.34) scale(0.95 1)" text-anchor="start" dominant-baseline="central" style="font-family:'Liberation Serif', serif;font-size:9px">электромегафон</text>
<text class="s" transform="translate(279.9 436.79) scale(0.95 1)" text-anchor="start" dominant-baseline="central" style="font-family:'Liberation Serif', serif;font-size:9px">E23</text>
<text class="s" transform="translate(320.1 437.09) scale(0.95 1)" text-anchor="start" dominant-baseline="central" style="font-family:'Liberation Serif', serif;font-size:9px">рабочая лампа</text>
<text class="s" transform="translate(6.6 453.35) scale(0.95 1)" text-anchor="start" dominant-baseline="central" style="font-family:'Liberation Serif', serif;font-size:9px">E7L.R</text>
<text class="s" transform="translate(43.8 449.89) scale(0.95 1)" text-anchor="start" dominant-baseline="central" style="font-family:'Liberation Serif', serif;font-size:9px">передние индикаторные лампы</text>
<text class="s" transform="translate(43.8 457.69) scale(0.95 1)" text-anchor="start" dominant-baseline="central" style="font-family:'Liberation Serif', serif;font-size:9px">обеих сторонах</text>
<text class="s" transform="translate(168.3 454.62) scale(0.95 1)" text-anchor="start" dominant-baseline="central" style="font-family:'Liberation Serif', serif;font-size:9px">B15</text>
<text class="s" transform="translate(194.9 450.64) scale(0.95 1)" text-anchor="start" dominant-baseline="central" style="font-family:'Liberation Serif', serif;font-size:9px">правой передний</text>
<text class="s" transform="translate(194.9 458.44) scale(0.95 1)" text-anchor="start" dominant-baseline="central" style="font-family:'Liberation Serif', serif;font-size:9px">электромегафон</text>
<text class="s" transform="translate(279.9 455.5) scale(0.95 1)" text-anchor="start" dominant-baseline="central" style="font-family:'Liberation Serif', serif;font-size:9px">E10</text>
<text class="s" transform="translate(320.1 455.81) scale(0.95 1)" text-anchor="start" dominant-baseline="central" style="font-family:'Liberation Serif', serif;font-size:9px">левая передняя ЭУП</text>
<text class="s" transform="translate(6.6 471.8) scale(0.95 1)" text-anchor="start" dominant-baseline="central" style="font-family:'Liberation Serif', serif;font-size:9px">E68L.R</text>
<text class="s" transform="translate(43.8 468.02) scale(0.95 1)" text-anchor="start" dominant-baseline="central" style="font-family:'Liberation Serif', serif;font-size:9px">лампы полки для чтения на</text>
<text class="s" transform="translate(43.8 475.82) scale(0.95 1)" text-anchor="start" dominant-baseline="central" style="font-family:'Liberation Serif', serif;font-size:9px">обеих сторонах</text>
<text class="s" transform="translate(168.3 473.09) scale(0.95 1)" text-anchor="start" dominant-baseline="central" style="font-family:'Liberation Serif', serif;font-size:9px">B16</text>
<text class="s" transform="translate(194.9 468.88) scale(0.95 1)" text-anchor="start" dominant-baseline="central" style="font-family:'Liberation Serif', serif;font-size:9px">левой западной</text>
<text class="s" transform="translate(194.9 476.68) scale(0.95 1)" text-anchor="start" dominant-baseline="central" style="font-family:'Liberation Serif', serif;font-size:9px">электромегафон</text>
<text class="s" transform="translate(279.9 473.98) scale(0.95 1)" text-anchor="start" dominant-baseline="central" style="font-family:'Liberation Serif', serif;font-size:9px">E12</text>
<text class="s" transform="translate(320.1 474.3) scale(0.95 1)" text-anchor="start" dominant-baseline="central" style="font-family:'Liberation Serif', serif;font-size:9px">правая передняя ЭУП</text>
<text class="s" transform="translate(6.6 490.6) scale(0.95 1)" text-anchor="start" dominant-baseline="central" style="font-family:'Liberation Serif', serif;font-size:9px">X85/1.2</text>
<text class="s" transform="translate(43.8 490.89) scale(0.95 1)" text-anchor="start" dominant-baseline="central" style="font-family:'Liberation Serif', serif;font-size:9px">Разнесённая машина</text>
<text class="s" transform="translate(168.3 491.83) scale(0.95 1)" text-anchor="start" dominant-baseline="central" style="font-family:'Liberation Serif', serif;font-size:9px">B17</text>
<text class="s" transform="translate(194.9 487.59) scale(0.95 1)" text-anchor="start" dominant-baseline="central" style="font-family:'Liberation Serif', serif;font-size:9px">правой западной</text>
<text class="s" transform="translate(194.9 495.39) scale(0.95 1)" text-anchor="start" dominant-baseline="central" style="font-family:'Liberation Serif', serif;font-size:9px">электромегафон</text>
<text class="s" transform="translate(279.9 492.68) scale(0.95 1)" text-anchor="start" dominant-baseline="central" style="font-family:'Liberation Serif', serif;font-size:9px">E54</text>
<text class="s" transform="translate(320.1 492.98) scale(0.95 1)" text-anchor="start" dominant-baseline="central" style="font-family:'Liberation Serif', serif;font-size:9px">левая западная ЭУП</text>
<text class="s" transform="translate(6.6 508.5) scale(0.95 1)" text-anchor="start" dominant-baseline="central" style="font-family:'Liberation Serif', serif;font-size:9px">S16</text>
<text class="s" transform="translate(43.8 508.71) scale(0.95 1)" text-anchor="start" dominant-baseline="central" style="font-family:'Liberation Serif', serif;font-size:9px">включатель лампы левой двери</text>
<text class="s" transform="translate(168.3 509.39) scale(0.95 1)" text-anchor="start" dominant-baseline="central" style="font-family:'Liberation Serif', serif;font-size:9px">H1</text>
<text class="s" transform="translate(194.9 509.53) scale(0.95 1)" text-anchor="start" dominant-baseline="central" style="font-family:'Liberation Serif', serif;font-size:9px">электрический гудок</text>
<text class="s" transform="translate(279.9 510) scale(0.95 1)" text-anchor="start" dominant-baseline="central" style="font-family:'Liberation Serif', serif;font-size:9px">E55</text>
<text class="s" transform="translate(320.1 510.22) scale(0.95 1)" text-anchor="start" dominant-baseline="central" style="font-family:'Liberation Serif', serif;font-size:9px">справая западная ЭУП</text>
<text class="s" transform="translate(422.7 400.9) scale(0.8 1)" text-anchor="middle" dominant-baseline="central" style="font-family:'Liberation Serif', serif;font-size:6.4px;font-weight:bold">41</text>
<text class="s" transform="translate(422.7 416) scale(0.8 1)" text-anchor="middle" dominant-baseline="central" style="font-family:'Liberation Serif', serif;font-size:6.4px;font-weight:bold">43</text>
<text class="s" transform="translate(422.7 441.1) scale(0.8 1)" text-anchor="middle" dominant-baseline="central" style="font-family:'Liberation Serif', serif;font-size:6.4px;font-weight:bold">55</text>
<text class="s" transform="translate(422.7 457) scale(0.8 1)" text-anchor="middle" dominant-baseline="central" style="font-family:'Liberation Serif', serif;font-size:6.4px;font-weight:bold">56</text>
<text class="s" transform="translate(437 400.6) scale(0.95 1)" text-anchor="start" dominant-baseline="central" style="font-family:'Liberation Serif', serif;font-size:9px">левое место металлизации кабины</text>
<text class="s" transform="translate(437 415.7) scale(0.95 1)" text-anchor="start" dominant-baseline="central" style="font-family:'Liberation Serif', serif;font-size:9px">место металлизации правой части</text>
<text class="s" transform="translate(437 428.4) scale(0.95 1)" text-anchor="start" dominant-baseline="central" style="font-family:'Liberation Serif', serif;font-size:9px">кабины</text>
<text class="s" transform="translate(437 441) scale(0.95 1)" text-anchor="start" dominant-baseline="central" style="font-family:'Liberation Serif', serif;font-size:9px">левое место металлизации на крыше</text>
<text class="s" transform="translate(437 457) scale(0.95 1)" text-anchor="start" dominant-baseline="central" style="font-family:'Liberation Serif', serif;font-size:9px">правое место металлизации на крыше</text>
<text class="s" transform="translate(598.4 401.4) scale(0.95 1)" text-anchor="start" dominant-baseline="central" style="font-family:'Liberation Serif', serif;font-size:9px">A</text>
<text class="s" transform="translate(612.6 401.4) scale(0.96 1)" text-anchor="start" dominant-baseline="central" style="font-family:'Liberation Serif', serif;font-size:9px">Электрооборудования</text>
<text class="s" transform="translate(610.7 411) scale(0.96 1)" text-anchor="start" dominant-baseline="central" style="font-family:'Liberation Serif', serif;font-size:9px">стандартной кабин</text>
<text class="s" transform="translate(598.4 421) scale(0.95 1)" text-anchor="start" dominant-baseline="central" style="font-family:'Liberation Serif', serif;font-size:9px">B</text>
<text class="s" transform="translate(612.6 421) scale(0.95 1)" text-anchor="start" dominant-baseline="central" style="font-family:'Liberation Serif', serif;font-size:9px">Огни Работы, рог</text>
<text class="s" transform="translate(598.4 430) scale(0.95 1)" text-anchor="start" dominant-baseline="central" style="font-family:'Liberation Serif', serif;font-size:9px">C</text>
<text class="s" transform="translate(612.6 430) scale(0.95 1)" text-anchor="start" dominant-baseline="central" style="font-family:'Liberation Serif', serif;font-size:9px">ЭУП</text>
</g>
</svg>
</body></html>
